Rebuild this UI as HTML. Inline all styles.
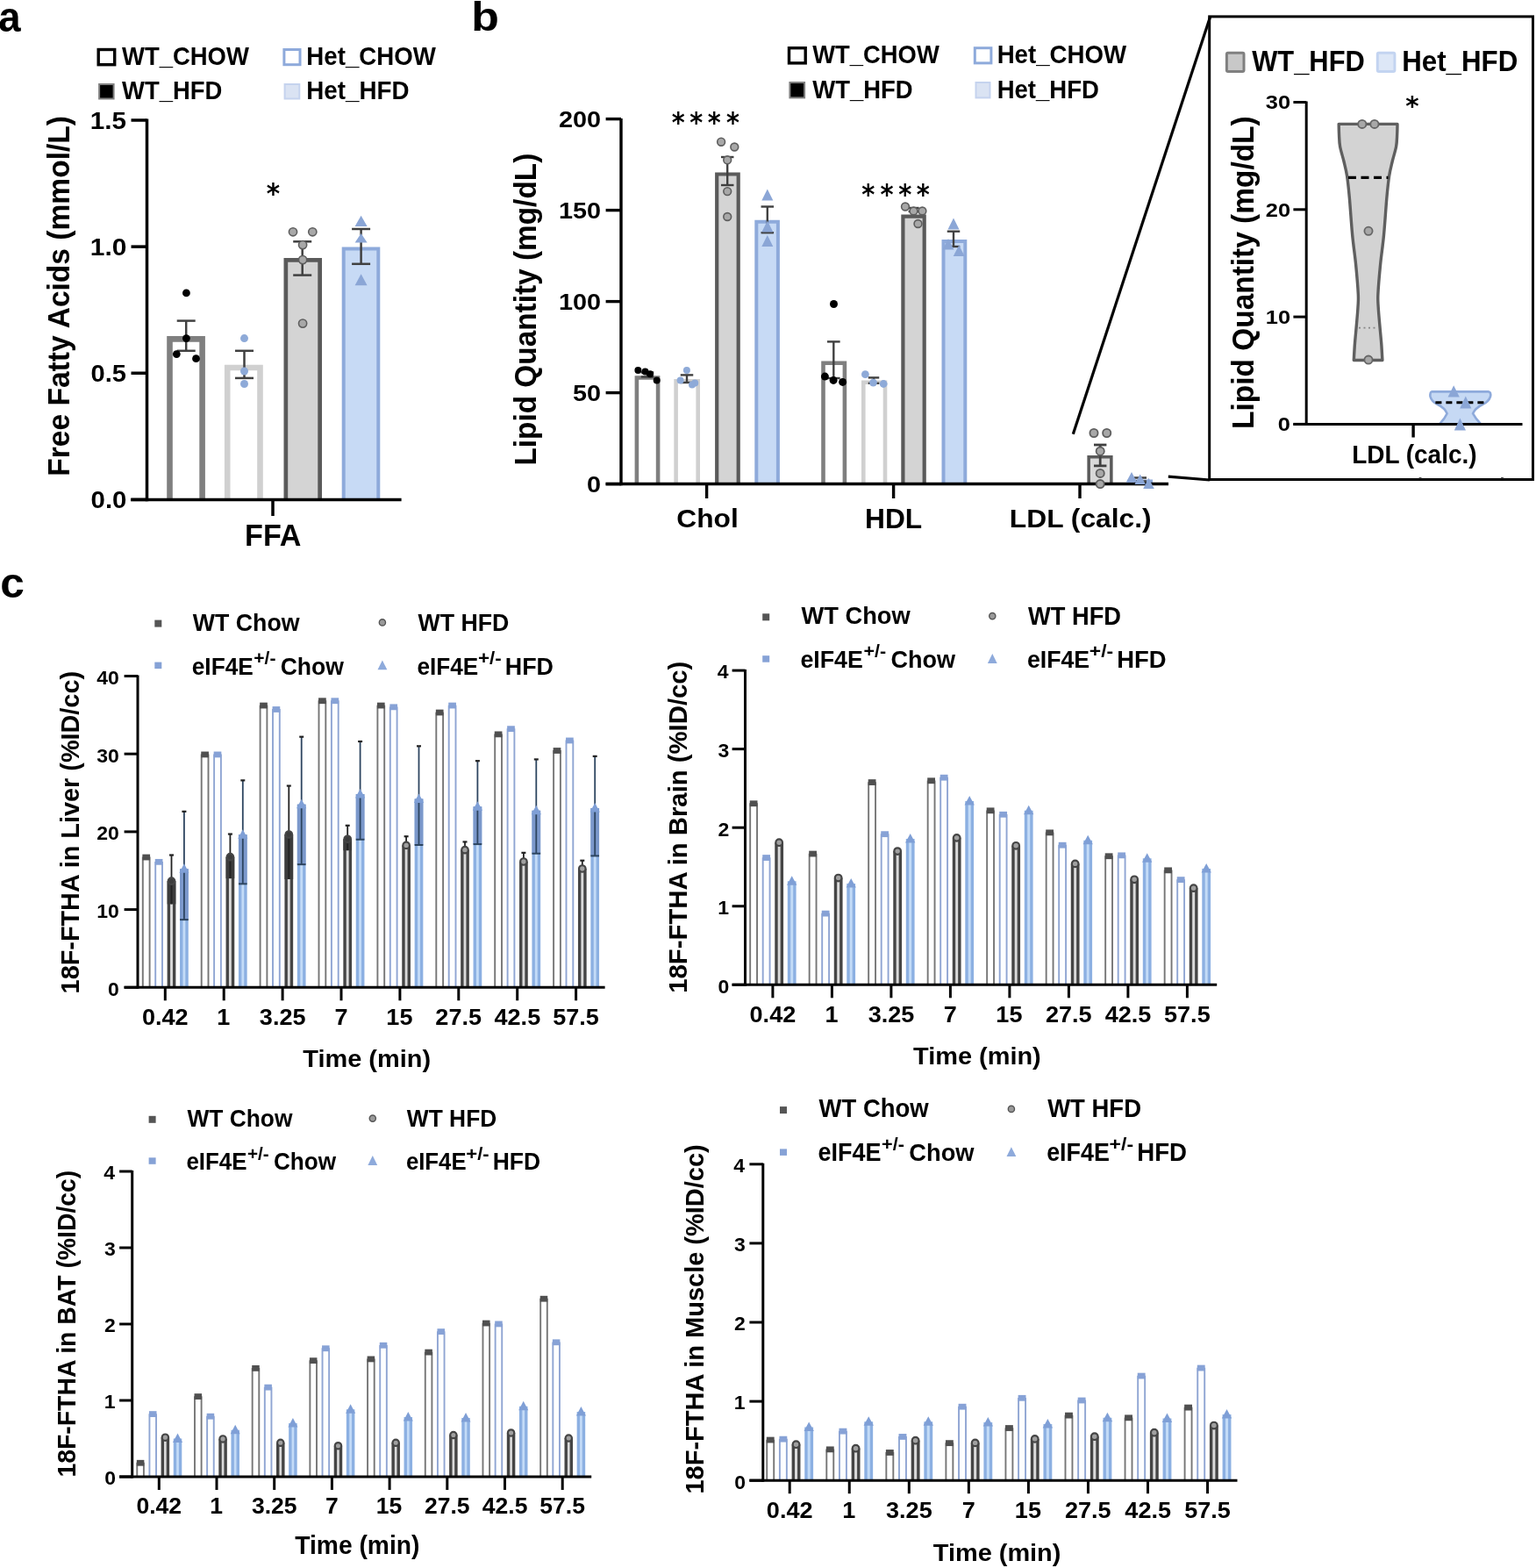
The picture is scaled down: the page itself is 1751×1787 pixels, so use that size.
<!DOCTYPE html><html><head><meta charset="utf-8"><title>Figure</title><style>html,body{margin:0;padding:0;background:#fff}svg{display:block}</style></head><body>
<svg width="1751" height="1787" viewBox="0 0 1751 1787" font-family="Liberation Sans, Arial, Helvetica, sans-serif" font-weight="bold">
<rect width="1751" height="1787" fill="#fff"/>
<text x="-1.84" y="35.63" font-size="48.01" textLength="25.35" lengthAdjust="spacingAndGlyphs" fill="#000">a</text>
<rect x="112.2" y="56.5" width="18.5" height="17.2" fill="#fff" stroke="#000" stroke-width="3.4"/>
<text x="138.97" y="74.2" font-size="29.51" textLength="144.85" lengthAdjust="spacingAndGlyphs" fill="#000">WT_CHOW</text>
<rect x="113.1" y="96" width="16.5" height="16.5" fill="#000" stroke="#808080" stroke-width="2"/>
<text x="138.97" y="113.3" font-size="28.92" textLength="114.38" lengthAdjust="spacingAndGlyphs" fill="#000">WT_HFD</text>
<rect x="323.9" y="56.5" width="18.1" height="17.2" fill="#fff" stroke="#8eaadb" stroke-width="3"/>
<text x="349.35" y="74.2" font-size="29.51" textLength="147.58" lengthAdjust="spacingAndGlyphs" fill="#000">Het_CHOW</text>
<rect x="324.6" y="96" width="16.7" height="16.5" fill="#dae3f3" stroke="#c5d3ee" stroke-width="2"/>
<text x="349.34" y="113.3" font-size="28.92" textLength="117.12" lengthAdjust="spacingAndGlyphs" fill="#000">Het_HFD</text>
<rect x="193.5" y="386.4" width="37.1" height="183" fill="#fff"/>
<path d="M193.5 569.4V386.4H230.6V569.4" fill="none" stroke="#7f7f7f" stroke-width="6.6" stroke-linejoin="miter"/>
<rect x="259.2" y="419" width="37.3" height="150.4" fill="#fff"/>
<path d="M259.2 569.4V419H296.5V569.4" fill="none" stroke="#d0d0d0" stroke-width="6.6" stroke-linejoin="miter"/>
<rect x="325.85" y="296.45" width="38.8" height="272.95" fill="#d4d4d4"/>
<path d="M325.85 569.4V296.45H364.65V569.4" fill="none" stroke="#5a5a5a" stroke-width="4.7" stroke-linejoin="miter"/>
<rect x="391.7" y="283.4" width="39.6" height="286" fill="#c7daf5"/>
<path d="M391.7 569.4V283.4H431.3V569.4" fill="none" stroke="#8eaadb" stroke-width="4" stroke-linejoin="miter"/>
<line x1="212.2" y1="365.6" x2="212.2" y2="399.8" stroke="#404040" stroke-width="2.5"/>
<line x1="201.7" y1="365.6" x2="222.7" y2="365.6" stroke="#404040" stroke-width="2.5"/>
<line x1="201.7" y1="399.8" x2="222.7" y2="399.8" stroke="#404040" stroke-width="2.5"/>
<line x1="278.5" y1="399.8" x2="278.5" y2="430.9" stroke="#404040" stroke-width="2.5"/>
<line x1="268" y1="399.8" x2="289" y2="399.8" stroke="#404040" stroke-width="2.5"/>
<line x1="268" y1="430.9" x2="289" y2="430.9" stroke="#404040" stroke-width="2.5"/>
<line x1="344.7" y1="275.3" x2="344.7" y2="313.6" stroke="#404040" stroke-width="2.5"/>
<line x1="334.2" y1="275.3" x2="355.2" y2="275.3" stroke="#404040" stroke-width="2.5"/>
<line x1="334.2" y1="313.6" x2="355.2" y2="313.6" stroke="#404040" stroke-width="2.5"/>
<line x1="411.6" y1="261" x2="411.6" y2="300.8" stroke="#404040" stroke-width="2.5"/>
<line x1="401.1" y1="261" x2="422.1" y2="261" stroke="#404040" stroke-width="2.5"/>
<line x1="401.1" y1="300.8" x2="422.1" y2="300.8" stroke="#404040" stroke-width="2.5"/>
<circle cx="212.4" cy="333.9" r="4.4" fill="#000" stroke="none" stroke-width="0"/>
<circle cx="212.4" cy="385.6" r="4.4" fill="#000" stroke="none" stroke-width="0"/>
<circle cx="201.3" cy="403.6" r="4.4" fill="#000" stroke="none" stroke-width="0"/>
<circle cx="223.5" cy="408.7" r="4.4" fill="#000" stroke="none" stroke-width="0"/>
<circle cx="278.5" cy="385.6" r="4.5" fill="#8eaad8" stroke="none" stroke-width="0"/>
<circle cx="278.5" cy="423" r="4.5" fill="#8eaad8" stroke="none" stroke-width="0"/>
<circle cx="278.5" cy="437.5" r="4.5" fill="#8eaad8" stroke="none" stroke-width="0"/>
<circle cx="334" cy="264.3" r="4.6" fill="#a8a8a8" stroke="#5e5e5e" stroke-width="1.6"/>
<circle cx="356.3" cy="264.3" r="4.6" fill="#a8a8a8" stroke="#5e5e5e" stroke-width="1.6"/>
<circle cx="345.1" cy="279.1" r="4.6" fill="#a8a8a8" stroke="#5e5e5e" stroke-width="1.6"/>
<circle cx="345.1" cy="296.1" r="4.6" fill="#a8a8a8" stroke="#5e5e5e" stroke-width="1.6"/>
<circle cx="345.1" cy="368.6" r="4.6" fill="#a8a8a8" stroke="#5e5e5e" stroke-width="1.6"/>
<path d="M411.6 245.8L418.6 257.9L404.6 257.9Z" fill="#8ba6d6" stroke="none" stroke-width="0" stroke-linejoin="round"/>
<path d="M411.6 265.9L418.6 276.6L404.6 276.6Z" fill="#8ba6d6" stroke="none" stroke-width="0" stroke-linejoin="round"/>
<path d="M411.6 312.2L418.6 325.2L404.6 325.2Z" fill="#8ba6d6" stroke="none" stroke-width="0" stroke-linejoin="round"/>
<line x1="167.5" y1="135.6" x2="167.5" y2="571.15" stroke="#000" stroke-width="3.5"/>
<line x1="149" y1="569.4" x2="457.6" y2="569.4" stroke="#000" stroke-width="3.5"/>
<line x1="149.5" y1="569.4" x2="167.5" y2="569.4" stroke="#000" stroke-width="3.5"/>
<line x1="149.5" y1="425.26" x2="167.5" y2="425.26" stroke="#000" stroke-width="3.5"/>
<line x1="149.5" y1="281.13" x2="167.5" y2="281.13" stroke="#000" stroke-width="3.5"/>
<line x1="149.5" y1="137" x2="167.5" y2="137" stroke="#000" stroke-width="3.5"/>
<line x1="311" y1="569.4" x2="311" y2="588" stroke="#000" stroke-width="3.5"/>
<text x="103.54" y="579.1" font-size="27.33" textLength="40.87" lengthAdjust="spacingAndGlyphs" fill="#000">0.0</text>
<text x="103.55" y="434.96" font-size="27.33" textLength="40.46" lengthAdjust="spacingAndGlyphs" fill="#000">0.5</text>
<text x="102.81" y="290.83" font-size="27.33" textLength="41.61" lengthAdjust="spacingAndGlyphs" fill="#000">1.0</text>
<text x="102.83" y="146.69" font-size="27.33" textLength="41.19" lengthAdjust="spacingAndGlyphs" fill="#000">1.5</text>
<text x="279.08" y="622.2" font-size="34.3" textLength="64.39" lengthAdjust="spacingAndGlyphs" fill="#000">FFA</text>
<text transform="translate(79.3 540.5) rotate(-90)" x="-2.24" y="0" font-size="35" textLength="410.7" lengthAdjust="spacingAndGlyphs" fill="#000">Free Fatty Acids (mmol/L)</text>
<text x="303.81" y="231.21" font-family="DejaVu Sans, sans-serif" font-size="31.68" textLength="15.38" lengthAdjust="spacingAndGlyphs" fill="#000">*</text>
<text x="537.19" y="35.35" font-size="45.75" textLength="31.64" lengthAdjust="spacingAndGlyphs" fill="#000">b</text>
<rect x="899.5" y="54.7" width="18.7" height="17.2" fill="#fff" stroke="#000" stroke-width="3.4"/>
<text x="926.27" y="72.2" font-size="29.51" textLength="144.45" lengthAdjust="spacingAndGlyphs" fill="#000">WT_CHOW</text>
<rect x="900.4" y="94" width="16.7" height="17.4" fill="#000" stroke="#808080" stroke-width="2"/>
<text x="926.27" y="112.2" font-size="30.23" textLength="114.38" lengthAdjust="spacingAndGlyphs" fill="#000">WT_HFD</text>
<rect x="1111.3" y="54.7" width="18.6" height="17.2" fill="#fff" stroke="#8eaadb" stroke-width="3"/>
<text x="1136.65" y="72.2" font-size="29.51" textLength="147.58" lengthAdjust="spacingAndGlyphs" fill="#000">Het_CHOW</text>
<rect x="1112.5" y="94" width="16" height="17.4" fill="#dae3f3" stroke="#c5d3ee" stroke-width="2"/>
<text x="1136.66" y="112.2" font-size="30.23" textLength="116.3" lengthAdjust="spacingAndGlyphs" fill="#000">Het_HFD</text>
<rect x="725.9" y="430.5" width="24.2" height="121" fill="#fff"/>
<path d="M725.9 551.5V430.5H750.1V551.5" fill="none" stroke="#7f7f7f" stroke-width="4.6" stroke-linejoin="miter"/>
<rect x="770.6" y="434.3" width="25.1" height="117.2" fill="#fff"/>
<path d="M770.6 551.5V434.3H795.7V551.5" fill="none" stroke="#d0d0d0" stroke-width="4.6" stroke-linejoin="miter"/>
<rect x="817.2" y="198.5" width="24.5" height="353" fill="#d4d4d4"/>
<path d="M817.2 551.5V198.5H841.7V551.5" fill="none" stroke="#5a5a5a" stroke-width="4.2" stroke-linejoin="miter"/>
<rect x="862.3" y="252.7" width="24.6" height="298.8" fill="#c7daf5"/>
<path d="M862.3 551.5V252.7H886.9V551.5" fill="none" stroke="#8eaadb" stroke-width="4" stroke-linejoin="miter"/>
<rect x="938.5" y="413.7" width="24.4" height="137.8" fill="#fff"/>
<path d="M938.5 551.5V413.7H962.9V551.5" fill="none" stroke="#7f7f7f" stroke-width="4.6" stroke-linejoin="miter"/>
<rect x="984.3" y="435.8" width="24.7" height="115.7" fill="#fff"/>
<path d="M984.3 551.5V435.8H1009V551.5" fill="none" stroke="#d0d0d0" stroke-width="4.6" stroke-linejoin="miter"/>
<rect x="1029.4" y="246.6" width="24.3" height="304.9" fill="#d4d4d4"/>
<path d="M1029.4 551.5V246.6H1053.7V551.5" fill="none" stroke="#5a5a5a" stroke-width="4.2" stroke-linejoin="miter"/>
<rect x="1075.5" y="275" width="24.8" height="276.5" fill="#c7daf5"/>
<path d="M1075.5 551.5V275H1100.3V551.5" fill="none" stroke="#8eaadb" stroke-width="4" stroke-linejoin="miter"/>
<rect x="1241.15" y="520.85" width="25.7" height="30.65" fill="#d9d9d9"/>
<path d="M1241.15 551.5V520.85H1266.85V551.5" fill="none" stroke="#5a5a5a" stroke-width="3.5" stroke-linejoin="miter"/>
<rect x="1287" y="548" width="25.5" height="3.5" fill="#c7daf5"/>
<path d="M1287 551.5V548H1312.5V551.5" fill="none" stroke="#8eaadb" stroke-width="3" stroke-linejoin="miter"/>
<line x1="738" y1="424.5" x2="738" y2="429.5" stroke="#404040" stroke-width="2.4"/>
<line x1="730.75" y1="424.5" x2="745.25" y2="424.5" stroke="#404040" stroke-width="2.4"/>
<line x1="730.75" y1="429.5" x2="745.25" y2="429.5" stroke="#404040" stroke-width="2.4"/>
<line x1="783" y1="427.4" x2="783" y2="436" stroke="#404040" stroke-width="2.4"/>
<line x1="775.75" y1="427.4" x2="790.25" y2="427.4" stroke="#404040" stroke-width="2.4"/>
<line x1="775.75" y1="436" x2="790.25" y2="436" stroke="#404040" stroke-width="2.4"/>
<line x1="829.2" y1="179" x2="829.2" y2="211" stroke="#404040" stroke-width="2.4"/>
<line x1="821.95" y1="179" x2="836.45" y2="179" stroke="#404040" stroke-width="2.4"/>
<line x1="821.95" y1="211" x2="836.45" y2="211" stroke="#404040" stroke-width="2.4"/>
<line x1="874.8" y1="235.5" x2="874.8" y2="265.2" stroke="#404040" stroke-width="2.4"/>
<line x1="867.55" y1="235.5" x2="882.05" y2="235.5" stroke="#404040" stroke-width="2.4"/>
<line x1="867.55" y1="265.2" x2="882.05" y2="265.2" stroke="#404040" stroke-width="2.4"/>
<line x1="950.3" y1="389.4" x2="950.3" y2="431" stroke="#404040" stroke-width="2.4"/>
<line x1="942.95" y1="389.4" x2="957.65" y2="389.4" stroke="#404040" stroke-width="2.4"/>
<line x1="942.95" y1="431" x2="957.65" y2="431" stroke="#404040" stroke-width="2.4"/>
<line x1="996" y1="430.4" x2="996" y2="436.8" stroke="#404040" stroke-width="2.4"/>
<line x1="989.75" y1="430.4" x2="1002.25" y2="430.4" stroke="#404040" stroke-width="2.4"/>
<line x1="989.75" y1="436.8" x2="1002.25" y2="436.8" stroke="#404040" stroke-width="2.4"/>
<line x1="1041.6" y1="237" x2="1041.6" y2="241" stroke="#404040" stroke-width="2.4"/>
<line x1="1035.6" y1="237" x2="1047.6" y2="237" stroke="#404040" stroke-width="2.4"/>
<line x1="1035.6" y1="241" x2="1047.6" y2="241" stroke="#404040" stroke-width="2.4"/>
<line x1="1087" y1="263.7" x2="1087" y2="281" stroke="#404040" stroke-width="2.4"/>
<line x1="1079.75" y1="263.7" x2="1094.25" y2="263.7" stroke="#404040" stroke-width="2.4"/>
<line x1="1079.75" y1="281" x2="1094.25" y2="281" stroke="#404040" stroke-width="2.4"/>
<line x1="1254.2" y1="507" x2="1254.2" y2="530.9" stroke="#404040" stroke-width="2.8"/>
<line x1="1247" y1="507" x2="1261.4" y2="507" stroke="#404040" stroke-width="2.8"/>
<line x1="1247" y1="530.9" x2="1261.4" y2="530.9" stroke="#404040" stroke-width="2.8"/>
<line x1="1300" y1="544.5" x2="1300" y2="548.5" stroke="#404040" stroke-width="2.5"/>
<line x1="1293" y1="544.5" x2="1307" y2="544.5" stroke="#404040" stroke-width="2.5"/>
<line x1="1293" y1="548.5" x2="1307" y2="548.5" stroke="#404040" stroke-width="2.5"/>
<circle cx="727.4" cy="421.9" r="4" fill="#000" stroke="none" stroke-width="0"/>
<circle cx="735.5" cy="423.4" r="4" fill="#000" stroke="none" stroke-width="0"/>
<circle cx="741.1" cy="426.3" r="4" fill="#000" stroke="none" stroke-width="0"/>
<circle cx="748.7" cy="433.5" r="4" fill="#000" stroke="none" stroke-width="0"/>
<circle cx="782.9" cy="421.9" r="4" fill="#8eaad8" stroke="none" stroke-width="0"/>
<circle cx="775.6" cy="433.4" r="4" fill="#8eaad8" stroke="none" stroke-width="0"/>
<circle cx="792.2" cy="436.6" r="4" fill="#8eaad8" stroke="none" stroke-width="0"/>
<circle cx="789" cy="438.5" r="4" fill="#8eaad8" stroke="none" stroke-width="0"/>
<circle cx="822.1" cy="161.7" r="4.4" fill="#a8a8a8" stroke="#5e5e5e" stroke-width="1.6"/>
<circle cx="837.3" cy="167.5" r="4.4" fill="#a8a8a8" stroke="#5e5e5e" stroke-width="1.6"/>
<circle cx="829.2" cy="182.3" r="4.4" fill="#a8a8a8" stroke="#5e5e5e" stroke-width="1.6"/>
<circle cx="829.2" cy="218.1" r="4.4" fill="#a8a8a8" stroke="#5e5e5e" stroke-width="1.6"/>
<circle cx="829.2" cy="247" r="4.4" fill="#a8a8a8" stroke="#5e5e5e" stroke-width="1.6"/>
<path d="M874.8 215.5L881.3 228.5L868.3 228.5Z" fill="#8ba6d6" stroke="none" stroke-width="0" stroke-linejoin="round"/>
<path d="M874.8 251.5L881.3 264.5L868.3 264.5Z" fill="#8ba6d6" stroke="none" stroke-width="0" stroke-linejoin="round"/>
<path d="M874.8 268L881.3 281L868.3 281Z" fill="#8ba6d6" stroke="none" stroke-width="0" stroke-linejoin="round"/>
<circle cx="950.5" cy="346.5" r="4.5" fill="#000" stroke="none" stroke-width="0"/>
<circle cx="940.4" cy="429.1" r="4.5" fill="#000" stroke="none" stroke-width="0"/>
<circle cx="950.1" cy="433.4" r="4.5" fill="#000" stroke="none" stroke-width="0"/>
<circle cx="960.6" cy="435.4" r="4.5" fill="#000" stroke="none" stroke-width="0"/>
<circle cx="986.4" cy="426.7" r="4.4" fill="#8eaad8" stroke="none" stroke-width="0"/>
<circle cx="995.5" cy="436.1" r="4.4" fill="#8eaad8" stroke="none" stroke-width="0"/>
<circle cx="1007.2" cy="437.5" r="4.4" fill="#8eaad8" stroke="none" stroke-width="0"/>
<circle cx="1032" cy="235.5" r="4.4" fill="#a8a8a8" stroke="#5e5e5e" stroke-width="1.6"/>
<circle cx="1041.5" cy="240.5" r="4.4" fill="#a8a8a8" stroke="#5e5e5e" stroke-width="1.6"/>
<circle cx="1051.4" cy="240.5" r="4.4" fill="#a8a8a8" stroke="#5e5e5e" stroke-width="1.6"/>
<circle cx="1046.5" cy="255" r="4.4" fill="#a8a8a8" stroke="#5e5e5e" stroke-width="1.6"/>
<path d="M1087 248.5L1093.5 261.5L1080.5 261.5Z" fill="#8ba6d6" stroke="none" stroke-width="0" stroke-linejoin="round"/>
<path d="M1093.2 279.5L1099.7 292L1086.7 292Z" fill="#8ba6d6" stroke="none" stroke-width="0" stroke-linejoin="round"/>
<path d="M1081 272L1087.5 284.5L1074.5 284.5Z" fill="#8ba6d6" stroke="none" stroke-width="0" stroke-linejoin="round"/>
<circle cx="1247" cy="493.5" r="4.6" fill="#a8a8a8" stroke="#5e5e5e" stroke-width="1.8"/>
<circle cx="1261.7" cy="493.5" r="4.6" fill="#a8a8a8" stroke="#5e5e5e" stroke-width="1.8"/>
<circle cx="1254.2" cy="514.2" r="4.6" fill="#a8a8a8" stroke="#5e5e5e" stroke-width="1.8"/>
<circle cx="1254.2" cy="539.4" r="4.6" fill="#a8a8a8" stroke="#5e5e5e" stroke-width="1.8"/>
<line x1="708" y1="135" x2="708" y2="553.2" stroke="#000" stroke-width="3.4"/>
<line x1="690.6" y1="551.5" x2="1332" y2="551.5" stroke="#000" stroke-width="3.4"/>
<line x1="690.6" y1="551.6" x2="708" y2="551.6" stroke="#000" stroke-width="3.4"/>
<line x1="690.6" y1="447.6" x2="708" y2="447.6" stroke="#000" stroke-width="3.4"/>
<line x1="690.6" y1="343.6" x2="708" y2="343.6" stroke="#000" stroke-width="3.4"/>
<line x1="690.6" y1="239.6" x2="708" y2="239.6" stroke="#000" stroke-width="3.4"/>
<line x1="690.6" y1="135.6" x2="708" y2="135.6" stroke="#000" stroke-width="3.4"/>
<line x1="805.6" y1="551.5" x2="805.6" y2="568" stroke="#000" stroke-width="3.4"/>
<line x1="1018.6" y1="551.5" x2="1018.6" y2="568" stroke="#000" stroke-width="3.4"/>
<line x1="1231" y1="551.5" x2="1231" y2="568" stroke="#000" stroke-width="3.4"/>
<circle cx="1254.2" cy="551.6" r="4.6" fill="#a8a8a8" stroke="#5e5e5e" stroke-width="1.8"/>
<path d="M1290 538.1L1296.3 549.7L1283.7 549.7Z" fill="#8ba6d6" stroke="none" stroke-width="0" stroke-linejoin="round"/>
<path d="M1299.7 540.6L1306 552L1293.4 552Z" fill="#8ba6d6" stroke="none" stroke-width="0" stroke-linejoin="round"/>
<path d="M1309.5 544.7L1315.8 557L1303.2 557Z" fill="#8ba6d6" stroke="none" stroke-width="0" stroke-linejoin="round"/>
<text x="668.95" y="561" font-size="26.16" textLength="16.03" lengthAdjust="spacingAndGlyphs" fill="#000">0</text>
<text x="652.93" y="457" font-size="26.16" textLength="32.06" lengthAdjust="spacingAndGlyphs" fill="#000">50</text>
<text x="636.9" y="353" font-size="26.16" textLength="48.08" lengthAdjust="spacingAndGlyphs" fill="#000">100</text>
<text x="636.9" y="249" font-size="26.16" textLength="48.08" lengthAdjust="spacingAndGlyphs" fill="#000">150</text>
<text x="636.9" y="145" font-size="26.16" textLength="48.08" lengthAdjust="spacingAndGlyphs" fill="#000">200</text>
<text x="771.3" y="601" font-size="30.09" textLength="70.45" lengthAdjust="spacingAndGlyphs" fill="#000">Chol</text>
<text x="985.98" y="601.5" font-size="30.81" textLength="65.2" lengthAdjust="spacingAndGlyphs" fill="#000">HDL</text>
<text x="1150.88" y="601.2" font-size="30.38" textLength="161.79" lengthAdjust="spacingAndGlyphs" fill="#000">LDL (calc.)</text>
<text transform="translate(611.3 528.4) rotate(-90)" x="-2.23" y="0" font-size="35" textLength="355.89" lengthAdjust="spacingAndGlyphs" fill="#000">Lipid Quantity (mg/dL)</text>
<text x="765.63" y="149.85" font-family="DejaVu Sans, sans-serif" font-size="31.47" textLength="14.94" lengthAdjust="spacingAndGlyphs" fill="#000">*</text>
<text x="786.23" y="149.85" font-family="DejaVu Sans, sans-serif" font-size="31.47" textLength="14.94" lengthAdjust="spacingAndGlyphs" fill="#000">*</text>
<text x="806.73" y="149.85" font-family="DejaVu Sans, sans-serif" font-size="31.47" textLength="14.94" lengthAdjust="spacingAndGlyphs" fill="#000">*</text>
<text x="828.03" y="149.85" font-family="DejaVu Sans, sans-serif" font-size="31.47" textLength="14.94" lengthAdjust="spacingAndGlyphs" fill="#000">*</text>
<text x="982.37" y="231.58" font-family="DejaVu Sans, sans-serif" font-size="32.11" textLength="15.05" lengthAdjust="spacingAndGlyphs" fill="#000">*</text>
<text x="1003.47" y="231.58" font-family="DejaVu Sans, sans-serif" font-size="32.11" textLength="15.05" lengthAdjust="spacingAndGlyphs" fill="#000">*</text>
<text x="1024.27" y="231.58" font-family="DejaVu Sans, sans-serif" font-size="32.11" textLength="15.05" lengthAdjust="spacingAndGlyphs" fill="#000">*</text>
<text x="1044.77" y="231.58" font-family="DejaVu Sans, sans-serif" font-size="32.11" textLength="15.05" lengthAdjust="spacingAndGlyphs" fill="#000">*</text>
<line x1="1223.3" y1="494.7" x2="1379.5" y2="19.5" stroke="#000" stroke-width="3.2"/>
<line x1="1331.8" y1="543.1" x2="1379" y2="547" stroke="#000" stroke-width="3.2"/>
<rect x="1378.7" y="18.9" width="368.8" height="527.6" fill="none" stroke="#000" stroke-width="3"/>
<rect x="1398.4" y="60.2" width="19.6" height="21.2" fill="#c8c8c8" stroke="#808080" stroke-width="3" rx="1.5"/>
<text x="1427.17" y="81.3" font-size="32.56" textLength="128.63" lengthAdjust="spacingAndGlyphs" fill="#000">WT_HFD</text>
<rect x="1570.3" y="60.2" width="19.6" height="21.2" fill="#dde7f7" stroke="#c3d4f1" stroke-width="3" rx="1.5"/>
<text x="1598.21" y="81.3" font-size="32.56" textLength="132.11" lengthAdjust="spacingAndGlyphs" fill="#000">Het_HFD</text>
<path d="M1526.2 141.4L1593 141.4C1592.95 143.33 1592.93 148.73 1592.7 153C1592.47 157.27 1592.52 161.83 1591.6 167C1590.68 172.17 1588.53 178.38 1587.2 184C1585.87 189.62 1584.65 193.87 1583.6 200.7C1582.55 207.53 1581.92 213.78 1580.9 225C1579.88 236.22 1578.72 255.25 1577.5 268C1576.28 280.75 1574.7 290.33 1573.6 301.5C1572.5 312.67 1571.3 326.92 1570.9 335C1570.5 343.08 1570.88 344.17 1571.2 350C1571.52 355.83 1572.22 363.17 1572.8 370C1573.38 376.83 1574.18 384.25 1574.7 391C1575.22 397.75 1575.7 407.25 1575.9 410.5L1543.3 410.5C1543.5 407.25 1543.98 397.75 1544.5 391C1545.02 384.25 1545.82 376.83 1546.4 370C1546.98 363.17 1547.68 355.83 1548 350C1548.32 344.17 1548.7 343.08 1548.3 335C1547.9 326.92 1546.7 312.67 1545.6 301.5C1544.5 290.33 1542.92 280.75 1541.7 268C1540.48 255.25 1539.32 236.22 1538.3 225C1537.28 213.78 1536.65 207.53 1535.6 200.7C1534.55 193.87 1533.33 189.62 1532 184C1530.67 178.38 1528.52 172.17 1527.6 167C1526.68 161.83 1526.73 157.27 1526.5 153C1526.27 148.73 1526.25 143.33 1526.2 141.4Z" fill="#d3d3d3" stroke="#5f5f5f" stroke-width="3.4" stroke-linejoin="round"/>
<line x1="1537" y1="202.3" x2="1582.5" y2="202.3" stroke="#000" stroke-width="3.2" stroke-dasharray="9 5.5"/>
<line x1="1549" y1="373.6" x2="1571" y2="373.6" stroke="#888" stroke-width="1.6" stroke-dasharray="2 3.5"/>
<circle cx="1552.8" cy="141.4" r="4.6" fill="#a8a8a8" stroke="#666" stroke-width="1.8"/>
<circle cx="1566.9" cy="141.4" r="4.6" fill="#a8a8a8" stroke="#666" stroke-width="1.8"/>
<circle cx="1560" cy="263.3" r="4.6" fill="#a8a8a8" stroke="#666" stroke-width="1.8"/>
<circle cx="1560" cy="410.1" r="4.6" fill="#a8a8a8" stroke="#666" stroke-width="1.8"/>
<path d="M1632 446.4 L1697.1 446.4 Q1700 447 1699 452 Q1697 458 1690 461 Q1682 465 1679 471.2 Q1682 477 1688 483.2 L1641.2 483.2 Q1647 477 1649.6 471.2 Q1647 465 1639 461 Q1632 458 1630.5 452 Q1630 447 1632 446.4 Z" fill="#c6d9f4" stroke="#8eaadb" stroke-width="2.6" stroke-linejoin="round"/>
<line x1="1636.4" y1="458.8" x2="1692" y2="458.8" stroke="#000" stroke-width="3" stroke-dasharray="7 5"/>
<path d="M1657.2 439.2L1663.8 452.4L1650.6 452.4Z" fill="#8ba6d6" stroke="none" stroke-width="0" stroke-linejoin="round"/>
<path d="M1670.8 451.6L1677.4 465.6L1664.2 465.6Z" fill="#8ba6d6" stroke="none" stroke-width="0" stroke-linejoin="round"/>
<line x1="1489.2" y1="115.5" x2="1489.2" y2="484.9" stroke="#000" stroke-width="3"/>
<line x1="1474.4" y1="483.4" x2="1735.5" y2="483.4" stroke="#000" stroke-width="3"/>
<line x1="1474.4" y1="483.4" x2="1489.2" y2="483.4" stroke="#000" stroke-width="3"/>
<line x1="1474.4" y1="361.1" x2="1489.2" y2="361.1" stroke="#000" stroke-width="3"/>
<line x1="1474.4" y1="238.8" x2="1489.2" y2="238.8" stroke="#000" stroke-width="3"/>
<line x1="1474.4" y1="116.5" x2="1489.2" y2="116.5" stroke="#000" stroke-width="3"/>
<line x1="1611.1" y1="483.4" x2="1611.1" y2="498.5" stroke="#000" stroke-width="3.4"/>
<path d="M1664.4 476.4L1671 490.4L1657.8 490.4Z" fill="#8ba6d6" stroke="none" stroke-width="0" stroke-linejoin="round"/>
<text x="1456.89" y="491.1" font-size="21.22" textLength="14.15" lengthAdjust="spacingAndGlyphs" fill="#000">0</text>
<text x="1442.75" y="368.8" font-size="21.22" textLength="28.3" lengthAdjust="spacingAndGlyphs" fill="#000">10</text>
<text x="1442.75" y="246.5" font-size="21.22" textLength="28.3" lengthAdjust="spacingAndGlyphs" fill="#000">20</text>
<text x="1442.75" y="124.2" font-size="21.22" textLength="28.3" lengthAdjust="spacingAndGlyphs" fill="#000">30</text>
<text x="1541.14" y="528" font-size="29.94" textLength="142.45" lengthAdjust="spacingAndGlyphs" fill="#000">LDL (calc.)</text>
<text transform="translate(1429 486.7) rotate(-90)" x="-2.24" y="0" font-size="35" textLength="356.6" lengthAdjust="spacingAndGlyphs" fill="#000">Lipid Quantity (mg/dL)</text>
<text x="1602.21" y="130.69" font-family="DejaVu Sans, sans-serif" font-size="30.17" textLength="15.38" lengthAdjust="spacingAndGlyphs" fill="#000">*</text>
<line x1="1617.5" y1="544.6" x2="1620.5" y2="544.6" stroke="#555" stroke-width="1.5"/>
<line x1="1711" y1="544.6" x2="1714" y2="544.6" stroke="#555" stroke-width="1.5"/>
<text x="0.36" y="681.02" font-size="48.74" textLength="27.59" lengthAdjust="spacingAndGlyphs" fill="#000">c</text>
<rect x="176.3" y="706.6" width="8" height="8" fill="#555" stroke="none" stroke-width="0"/>
<text x="219.77" y="718.73" font-size="27.91" textLength="121.77" lengthAdjust="spacingAndGlyphs" fill="#000">WT Chow</text>
<circle cx="435.9" cy="709.4" r="3.6" fill="#9a9a9a" stroke="#555" stroke-width="1.4"/>
<text x="476.47" y="718.8" font-size="28.05" textLength="103.95" lengthAdjust="spacingAndGlyphs" fill="#000">WT HFD</text>
<rect x="176.3" y="754.6" width="8" height="7.5" fill="#86a2d6" stroke="none" stroke-width="0"/>
<text x="218.77" y="768.6" font-size="27.91" textLength="70.05" lengthAdjust="spacingAndGlyphs" fill="#000">eIF4E</text>
<text x="289.32" y="756.81" font-size="19.61" textLength="25.12" lengthAdjust="spacingAndGlyphs" fill="#000">+/-</text>
<text x="319.71" y="768.53" font-size="27.51" textLength="72.24" lengthAdjust="spacingAndGlyphs" fill="#000">Chow</text>
<path d="M435.9 752.4L441.3 763.3L430.5 763.3Z" fill="#8eaadb" stroke="none" stroke-width="0" stroke-linejoin="round"/>
<text x="475.48" y="768.6" font-size="27.91" textLength="69.74" lengthAdjust="spacingAndGlyphs" fill="#000">eIF4E</text>
<text x="544.96" y="756.81" font-size="19.61" textLength="26.74" lengthAdjust="spacingAndGlyphs" fill="#000">+/-</text>
<text x="575.8" y="768.6" font-size="27.91" textLength="55.23" lengthAdjust="spacingAndGlyphs" fill="#000">HFD</text>
<rect x="162.8" y="977.57" width="7.8" height="147.73" fill="#fff"/>
<path d="M162.8 1125.3V977.57H170.6V1125.3" fill="none" stroke="#767676" stroke-width="1.9" stroke-linejoin="miter"/>
<rect x="162.35" y="973.62" width="8.7" height="6.8" fill="#505050" stroke="none" stroke-width="0"/>
<rect x="177.2" y="982.89" width="7.8" height="142.41" fill="#fdfeff"/>
<path d="M177.2 1125.3V982.89H185V1125.3" fill="none" stroke="#8fa5d3" stroke-width="1.9" stroke-linejoin="miter"/>
<rect x="176.75" y="978.94" width="8.7" height="6.8" fill="#87a2d6" stroke="none" stroke-width="0"/>
<rect x="192.35" y="1005.9" width="6.3" height="119.4" fill="#dadada"/>
<path d="M192.35 1125.3V1005.9H198.65V1125.3" fill="none" stroke="#454545" stroke-width="3.4" stroke-linejoin="miter"/>
<rect x="190.65" y="1004.2" width="9.7" height="26.19" fill="#3c3c3c" stroke="none" stroke-width="0"/>
<line x1="195.5" y1="974.51" x2="195.5" y2="1030.39" stroke="#222" stroke-width="1.8"/>
<line x1="193" y1="974.51" x2="198" y2="974.51" stroke="#222" stroke-width="2.2"/>
<circle cx="195.5" cy="1004.2" r="3.75" fill="#3c3c3c" stroke="#454545" stroke-width="2.2"/>
<rect x="206.75" y="991.97" width="6.3" height="133.33" fill="#c3dbf7"/>
<path d="M206.75 1125.3V991.97H213.05V1125.3" fill="none" stroke="#8cb0e2" stroke-width="3.4" stroke-linejoin="miter"/>
<rect x="205.05" y="990.27" width="9.7" height="57.86" fill="#7b98cb" stroke="none" stroke-width="0"/>
<line x1="209.9" y1="924.84" x2="209.9" y2="1048.13" stroke="#2d4560" stroke-width="1.8"/>
<line x1="207.4" y1="924.84" x2="212.4" y2="924.84" stroke="#222" stroke-width="2.2"/>
<line x1="205.05" y1="1048.13" x2="214.75" y2="1048.13" stroke="#2d4560" stroke-width="2"/>
<path d="M209.9 984.27L215.5 994.77L204.3 994.77Z" fill="#7f9fd6" stroke="none" stroke-width="0" stroke-linejoin="round"/>
<rect x="229.7" y="860.49" width="7.8" height="264.81" fill="#fff"/>
<path d="M229.7 1125.3V860.49H237.5V1125.3" fill="none" stroke="#767676" stroke-width="1.9" stroke-linejoin="miter"/>
<rect x="229.25" y="856.54" width="8.7" height="6.8" fill="#505050" stroke="none" stroke-width="0"/>
<rect x="244.1" y="860.49" width="7.8" height="264.81" fill="#fdfeff"/>
<path d="M244.1 1125.3V860.49H251.9V1125.3" fill="none" stroke="#8fa5d3" stroke-width="1.9" stroke-linejoin="miter"/>
<rect x="243.65" y="856.54" width="8.7" height="6.8" fill="#87a2d6" stroke="none" stroke-width="0"/>
<rect x="259.25" y="978.4" width="6.3" height="146.9" fill="#dadada"/>
<path d="M259.25 1125.3V978.4H265.55V1125.3" fill="none" stroke="#454545" stroke-width="3.4" stroke-linejoin="miter"/>
<rect x="257.55" y="976.7" width="9.7" height="24.42" fill="#3c3c3c" stroke="none" stroke-width="0"/>
<line x1="262.4" y1="950.56" x2="262.4" y2="1001.12" stroke="#222" stroke-width="1.8"/>
<line x1="259.9" y1="950.56" x2="264.9" y2="950.56" stroke="#222" stroke-width="2.2"/>
<circle cx="262.4" cy="976.7" r="3.75" fill="#3c3c3c" stroke="#454545" stroke-width="2.2"/>
<rect x="273.65" y="952.94" width="6.3" height="172.36" fill="#c3dbf7"/>
<path d="M273.65 1125.3V952.94H279.95V1125.3" fill="none" stroke="#8cb0e2" stroke-width="3.4" stroke-linejoin="miter"/>
<rect x="271.95" y="951.24" width="9.7" height="56.09" fill="#7b98cb" stroke="none" stroke-width="0"/>
<line x1="276.8" y1="889.36" x2="276.8" y2="1007.33" stroke="#2d4560" stroke-width="1.8"/>
<line x1="274.3" y1="889.36" x2="279.3" y2="889.36" stroke="#222" stroke-width="2.2"/>
<line x1="271.95" y1="1007.33" x2="281.65" y2="1007.33" stroke="#2d4560" stroke-width="2"/>
<path d="M276.8 945.24L282.4 955.74L271.2 955.74Z" fill="#7f9fd6" stroke="none" stroke-width="0" stroke-linejoin="round"/>
<rect x="296.6" y="804.61" width="7.8" height="320.69" fill="#fff"/>
<path d="M296.6 1125.3V804.61H304.4V1125.3" fill="none" stroke="#767676" stroke-width="1.9" stroke-linejoin="miter"/>
<rect x="296.15" y="800.66" width="8.7" height="6.8" fill="#505050" stroke="none" stroke-width="0"/>
<rect x="311" y="809.04" width="7.8" height="316.26" fill="#fdfeff"/>
<path d="M311 1125.3V809.04H318.8V1125.3" fill="none" stroke="#8fa5d3" stroke-width="1.9" stroke-linejoin="miter"/>
<rect x="310.55" y="805.09" width="8.7" height="6.8" fill="#87a2d6" stroke="none" stroke-width="0"/>
<rect x="326.15" y="952.68" width="6.3" height="172.62" fill="#dadada"/>
<path d="M326.15 1125.3V952.68H332.45V1125.3" fill="none" stroke="#454545" stroke-width="3.4" stroke-linejoin="miter"/>
<rect x="324.45" y="950.98" width="9.7" height="51.03" fill="#3c3c3c" stroke="none" stroke-width="0"/>
<line x1="329.3" y1="895.57" x2="329.3" y2="1002.01" stroke="#222" stroke-width="1.8"/>
<line x1="326.8" y1="895.57" x2="331.8" y2="895.57" stroke="#222" stroke-width="2.2"/>
<circle cx="329.3" cy="950.98" r="3.75" fill="#3c3c3c" stroke="#454545" stroke-width="2.2"/>
<rect x="340.55" y="918.35" width="6.3" height="206.95" fill="#c3dbf7"/>
<path d="M340.55 1125.3V918.35H346.85V1125.3" fill="none" stroke="#8cb0e2" stroke-width="3.4" stroke-linejoin="miter"/>
<rect x="338.85" y="916.65" width="9.7" height="68.51" fill="#7b98cb" stroke="none" stroke-width="0"/>
<line x1="343.7" y1="839.69" x2="343.7" y2="985.15" stroke="#2d4560" stroke-width="1.8"/>
<line x1="341.2" y1="839.69" x2="346.2" y2="839.69" stroke="#222" stroke-width="2.2"/>
<line x1="338.85" y1="985.15" x2="348.55" y2="985.15" stroke="#2d4560" stroke-width="2"/>
<path d="M343.7 910.65L349.3 921.15L338.1 921.15Z" fill="#7f9fd6" stroke="none" stroke-width="0" stroke-linejoin="round"/>
<rect x="363.5" y="799.29" width="7.8" height="326.01" fill="#fff"/>
<path d="M363.5 1125.3V799.29H371.3V1125.3" fill="none" stroke="#767676" stroke-width="1.9" stroke-linejoin="miter"/>
<rect x="363.05" y="795.34" width="8.7" height="6.8" fill="#505050" stroke="none" stroke-width="0"/>
<rect x="377.9" y="799.29" width="7.8" height="326.01" fill="#fdfeff"/>
<path d="M377.9 1125.3V799.29H385.7V1125.3" fill="none" stroke="#8fa5d3" stroke-width="1.9" stroke-linejoin="miter"/>
<rect x="377.45" y="795.34" width="8.7" height="6.8" fill="#87a2d6" stroke="none" stroke-width="0"/>
<rect x="393.05" y="958" width="6.3" height="167.3" fill="#dadada"/>
<path d="M393.05 1125.3V958H399.35V1125.3" fill="none" stroke="#454545" stroke-width="3.4" stroke-linejoin="miter"/>
<rect x="391.35" y="956.3" width="9.7" height="12.89" fill="#3c3c3c" stroke="none" stroke-width="0"/>
<line x1="396.2" y1="940.8" x2="396.2" y2="969.19" stroke="#222" stroke-width="1.8"/>
<line x1="393.7" y1="940.8" x2="398.7" y2="940.8" stroke="#222" stroke-width="2.2"/>
<circle cx="396.2" cy="956.3" r="3.75" fill="#3c3c3c" stroke="#454545" stroke-width="2.2"/>
<rect x="407.45" y="906.82" width="6.3" height="218.48" fill="#c3dbf7"/>
<path d="M407.45 1125.3V906.82H413.75V1125.3" fill="none" stroke="#8cb0e2" stroke-width="3.4" stroke-linejoin="miter"/>
<rect x="405.75" y="905.12" width="9.7" height="51.65" fill="#7b98cb" stroke="none" stroke-width="0"/>
<line x1="410.6" y1="845.01" x2="410.6" y2="956.77" stroke="#2d4560" stroke-width="1.8"/>
<line x1="408.1" y1="845.01" x2="413.1" y2="845.01" stroke="#222" stroke-width="2.2"/>
<line x1="405.75" y1="956.77" x2="415.45" y2="956.77" stroke="#2d4560" stroke-width="2"/>
<path d="M410.6 899.12L416.2 909.62L405 909.62Z" fill="#7f9fd6" stroke="none" stroke-width="0" stroke-linejoin="round"/>
<rect x="430.4" y="804.61" width="7.8" height="320.69" fill="#fff"/>
<path d="M430.4 1125.3V804.61H438.2V1125.3" fill="none" stroke="#767676" stroke-width="1.9" stroke-linejoin="miter"/>
<rect x="429.95" y="800.66" width="8.7" height="6.8" fill="#505050" stroke="none" stroke-width="0"/>
<rect x="444.8" y="806.38" width="7.8" height="318.92" fill="#fdfeff"/>
<path d="M444.8 1125.3V806.38H452.6V1125.3" fill="none" stroke="#8fa5d3" stroke-width="1.9" stroke-linejoin="miter"/>
<rect x="444.35" y="802.43" width="8.7" height="6.8" fill="#87a2d6" stroke="none" stroke-width="0"/>
<rect x="459.95" y="965.09" width="6.3" height="160.21" fill="#dadada"/>
<path d="M459.95 1125.3V965.09H466.25V1125.3" fill="none" stroke="#454545" stroke-width="3.4" stroke-linejoin="miter"/>
<line x1="463.1" y1="953.22" x2="463.1" y2="965.64" stroke="#222" stroke-width="1.8"/>
<line x1="460.6" y1="953.22" x2="465.6" y2="953.22" stroke="#222" stroke-width="2.2"/>
<circle cx="463.1" cy="963.39" r="3.75" fill="#a0a0a0" stroke="#454545" stroke-width="2.2"/>
<rect x="474.35" y="912.14" width="6.3" height="213.16" fill="#c3dbf7"/>
<path d="M474.35 1125.3V912.14H480.65V1125.3" fill="none" stroke="#8cb0e2" stroke-width="3.4" stroke-linejoin="miter"/>
<rect x="472.65" y="910.44" width="9.7" height="52.54" fill="#7b98cb" stroke="none" stroke-width="0"/>
<line x1="477.5" y1="850.33" x2="477.5" y2="962.98" stroke="#2d4560" stroke-width="1.8"/>
<line x1="475" y1="850.33" x2="480" y2="850.33" stroke="#222" stroke-width="2.2"/>
<line x1="472.65" y1="962.98" x2="482.35" y2="962.98" stroke="#2d4560" stroke-width="2"/>
<path d="M477.5 904.44L483.1 914.94L471.9 914.94Z" fill="#7f9fd6" stroke="none" stroke-width="0" stroke-linejoin="round"/>
<rect x="497.3" y="812.59" width="7.8" height="312.71" fill="#fff"/>
<path d="M497.3 1125.3V812.59H505.1V1125.3" fill="none" stroke="#767676" stroke-width="1.9" stroke-linejoin="miter"/>
<rect x="496.85" y="808.64" width="8.7" height="6.8" fill="#505050" stroke="none" stroke-width="0"/>
<rect x="511.7" y="804.61" width="7.8" height="320.69" fill="#fdfeff"/>
<path d="M511.7 1125.3V804.61H519.5V1125.3" fill="none" stroke="#8fa5d3" stroke-width="1.9" stroke-linejoin="miter"/>
<rect x="511.25" y="800.66" width="8.7" height="6.8" fill="#87a2d6" stroke="none" stroke-width="0"/>
<rect x="526.85" y="970.42" width="6.3" height="154.88" fill="#dadada"/>
<path d="M526.85 1125.3V970.42H533.15V1125.3" fill="none" stroke="#454545" stroke-width="3.4" stroke-linejoin="miter"/>
<line x1="530" y1="959.43" x2="530" y2="968.3" stroke="#222" stroke-width="1.8"/>
<line x1="527.5" y1="959.43" x2="532.5" y2="959.43" stroke="#222" stroke-width="2.2"/>
<circle cx="530" cy="968.72" r="3.75" fill="#a0a0a0" stroke="#454545" stroke-width="2.2"/>
<rect x="541.25" y="921.01" width="6.3" height="204.29" fill="#c3dbf7"/>
<path d="M541.25 1125.3V921.01H547.55V1125.3" fill="none" stroke="#8cb0e2" stroke-width="3.4" stroke-linejoin="miter"/>
<rect x="539.55" y="919.31" width="9.7" height="42.78" fill="#7b98cb" stroke="none" stroke-width="0"/>
<line x1="544.4" y1="867.18" x2="544.4" y2="962.09" stroke="#2d4560" stroke-width="1.8"/>
<line x1="541.9" y1="867.18" x2="546.9" y2="867.18" stroke="#222" stroke-width="2.2"/>
<line x1="539.55" y1="962.09" x2="549.25" y2="962.09" stroke="#2d4560" stroke-width="2"/>
<path d="M544.4 913.31L550 923.81L538.8 923.81Z" fill="#7f9fd6" stroke="none" stroke-width="0" stroke-linejoin="round"/>
<rect x="564.2" y="837.43" width="7.8" height="287.87" fill="#fff"/>
<path d="M564.2 1125.3V837.43H572V1125.3" fill="none" stroke="#767676" stroke-width="1.9" stroke-linejoin="miter"/>
<rect x="563.75" y="833.48" width="8.7" height="6.8" fill="#505050" stroke="none" stroke-width="0"/>
<rect x="578.6" y="831.22" width="7.8" height="294.08" fill="#fdfeff"/>
<path d="M578.6 1125.3V831.22H586.4V1125.3" fill="none" stroke="#8fa5d3" stroke-width="1.9" stroke-linejoin="miter"/>
<rect x="578.15" y="827.27" width="8.7" height="6.8" fill="#87a2d6" stroke="none" stroke-width="0"/>
<rect x="593.75" y="983.72" width="6.3" height="141.58" fill="#dadada"/>
<path d="M593.75 1125.3V983.72H600.05V1125.3" fill="none" stroke="#454545" stroke-width="3.4" stroke-linejoin="miter"/>
<line x1="596.9" y1="971.85" x2="596.9" y2="982.49" stroke="#222" stroke-width="1.8"/>
<line x1="594.4" y1="971.85" x2="599.4" y2="971.85" stroke="#222" stroke-width="2.2"/>
<circle cx="596.9" cy="982.02" r="3.75" fill="#a0a0a0" stroke="#454545" stroke-width="2.2"/>
<rect x="608.15" y="925.44" width="6.3" height="199.86" fill="#c3dbf7"/>
<path d="M608.15 1125.3V925.44H614.45V1125.3" fill="none" stroke="#8cb0e2" stroke-width="3.4" stroke-linejoin="miter"/>
<rect x="606.45" y="923.74" width="9.7" height="48.99" fill="#7b98cb" stroke="none" stroke-width="0"/>
<line x1="611.3" y1="865.41" x2="611.3" y2="972.74" stroke="#2d4560" stroke-width="1.8"/>
<line x1="608.8" y1="865.41" x2="613.8" y2="865.41" stroke="#222" stroke-width="2.2"/>
<line x1="606.45" y1="972.74" x2="616.15" y2="972.74" stroke="#2d4560" stroke-width="2"/>
<path d="M611.3 917.74L616.9 928.24L605.7 928.24Z" fill="#7f9fd6" stroke="none" stroke-width="0" stroke-linejoin="round"/>
<rect x="631.1" y="856.05" width="7.8" height="269.25" fill="#fff"/>
<path d="M631.1 1125.3V856.05H638.9V1125.3" fill="none" stroke="#767676" stroke-width="1.9" stroke-linejoin="miter"/>
<rect x="630.65" y="852.1" width="8.7" height="6.8" fill="#505050" stroke="none" stroke-width="0"/>
<rect x="645.5" y="844.52" width="7.8" height="280.78" fill="#fdfeff"/>
<path d="M645.5 1125.3V844.52H653.3V1125.3" fill="none" stroke="#8fa5d3" stroke-width="1.9" stroke-linejoin="miter"/>
<rect x="645.05" y="840.57" width="8.7" height="6.8" fill="#87a2d6" stroke="none" stroke-width="0"/>
<rect x="660.65" y="991.7" width="6.3" height="133.6" fill="#dadada"/>
<path d="M660.65 1125.3V991.7H666.95V1125.3" fill="none" stroke="#454545" stroke-width="3.4" stroke-linejoin="miter"/>
<line x1="663.8" y1="980.72" x2="663.8" y2="989.59" stroke="#222" stroke-width="1.8"/>
<line x1="661.3" y1="980.72" x2="666.3" y2="980.72" stroke="#222" stroke-width="2.2"/>
<circle cx="663.8" cy="990" r="3.75" fill="#a0a0a0" stroke="#454545" stroke-width="2.2"/>
<rect x="675.05" y="922.78" width="6.3" height="202.52" fill="#c3dbf7"/>
<path d="M675.05 1125.3V922.78H681.35V1125.3" fill="none" stroke="#8cb0e2" stroke-width="3.4" stroke-linejoin="miter"/>
<rect x="673.35" y="921.08" width="9.7" height="54.32" fill="#7b98cb" stroke="none" stroke-width="0"/>
<line x1="678.2" y1="861.86" x2="678.2" y2="975.4" stroke="#2d4560" stroke-width="1.8"/>
<line x1="675.7" y1="861.86" x2="680.7" y2="861.86" stroke="#222" stroke-width="2.2"/>
<line x1="673.35" y1="975.4" x2="683.05" y2="975.4" stroke="#2d4560" stroke-width="2"/>
<path d="M678.2 915.08L683.8 925.58L672.6 925.58Z" fill="#7f9fd6" stroke="none" stroke-width="0" stroke-linejoin="round"/>
<line x1="157" y1="769.5" x2="157" y2="1126.8" stroke="#000" stroke-width="3"/>
<line x1="141.6" y1="1125.3" x2="689.6" y2="1125.3" stroke="#000" stroke-width="3"/>
<line x1="141.6" y1="1125.3" x2="157" y2="1125.3" stroke="#000" stroke-width="3"/>
<line x1="141.6" y1="1036.6" x2="157" y2="1036.6" stroke="#000" stroke-width="3"/>
<line x1="141.6" y1="947.9" x2="157" y2="947.9" stroke="#000" stroke-width="3"/>
<line x1="141.6" y1="859.2" x2="157" y2="859.2" stroke="#000" stroke-width="3"/>
<line x1="141.6" y1="770.5" x2="157" y2="770.5" stroke="#000" stroke-width="3"/>
<line x1="188.3" y1="1125.3" x2="188.3" y2="1140.3" stroke="#000" stroke-width="3"/>
<line x1="255.2" y1="1125.3" x2="255.2" y2="1140.3" stroke="#000" stroke-width="3"/>
<line x1="322.1" y1="1125.3" x2="322.1" y2="1140.3" stroke="#000" stroke-width="3"/>
<line x1="389" y1="1125.3" x2="389" y2="1140.3" stroke="#000" stroke-width="3"/>
<line x1="455.9" y1="1125.3" x2="455.9" y2="1140.3" stroke="#000" stroke-width="3"/>
<line x1="522.8" y1="1125.3" x2="522.8" y2="1140.3" stroke="#000" stroke-width="3"/>
<line x1="589.7" y1="1125.3" x2="589.7" y2="1140.3" stroke="#000" stroke-width="3"/>
<line x1="656.6" y1="1125.3" x2="656.6" y2="1140.3" stroke="#000" stroke-width="3"/>
<text x="122.95" y="1134.6" font-size="21.5" textLength="12.79" lengthAdjust="spacingAndGlyphs" fill="#000">0</text>
<text x="110.15" y="1045.9" font-size="21.5" textLength="25.59" lengthAdjust="spacingAndGlyphs" fill="#000">10</text>
<text x="110.15" y="957.2" font-size="21.5" textLength="25.59" lengthAdjust="spacingAndGlyphs" fill="#000">20</text>
<text x="110.15" y="868.5" font-size="21.5" textLength="25.59" lengthAdjust="spacingAndGlyphs" fill="#000">30</text>
<text x="110.15" y="779.8" font-size="21.5" textLength="25.59" lengthAdjust="spacingAndGlyphs" fill="#000">40</text>
<text x="161.99" y="1168.3" font-size="26" textLength="52.63" lengthAdjust="spacingAndGlyphs" fill="#000">0.42</text>
<text x="247.21" y="1168.3" font-size="26" textLength="15.04" lengthAdjust="spacingAndGlyphs" fill="#000">1</text>
<text x="295.85" y="1168.3" font-size="26" textLength="52.63" lengthAdjust="spacingAndGlyphs" fill="#000">3.25</text>
<text x="381.49" y="1168.3" font-size="26" textLength="15.04" lengthAdjust="spacingAndGlyphs" fill="#000">7</text>
<text x="440.39" y="1168.3" font-size="26" textLength="30.08" lengthAdjust="spacingAndGlyphs" fill="#000">15</text>
<text x="496.39" y="1168.3" font-size="26" textLength="52.63" lengthAdjust="spacingAndGlyphs" fill="#000">27.5</text>
<text x="563.56" y="1168.3" font-size="26" textLength="52.63" lengthAdjust="spacingAndGlyphs" fill="#000">42.5</text>
<text x="630.25" y="1168.3" font-size="26" textLength="52.63" lengthAdjust="spacingAndGlyphs" fill="#000">57.5</text>
<text x="345.38" y="1216" font-size="28.34" textLength="145.66" lengthAdjust="spacingAndGlyphs" fill="#000">Time (min)</text>
<text transform="translate(90.2 1130.6) rotate(-90)" x="-1.81" y="0" font-size="30" textLength="367.44" lengthAdjust="spacingAndGlyphs" fill="#000">18F-FTHA in Liver (%ID/cc)</text>
<rect x="869.2" y="699.3" width="8" height="8" fill="#555" stroke="none" stroke-width="0"/>
<text x="913.47" y="711.42" font-size="28.47" textLength="124.21" lengthAdjust="spacingAndGlyphs" fill="#000">WT Chow</text>
<circle cx="1131.3" cy="702.1" r="3.6" fill="#9a9a9a" stroke="#555" stroke-width="1.4"/>
<text x="1171.97" y="711.5" font-size="28.61" textLength="106.03" lengthAdjust="spacingAndGlyphs" fill="#000">WT HFD</text>
<rect x="869.2" y="747.2" width="8" height="7.5" fill="#86a2d6" stroke="none" stroke-width="0"/>
<text x="912.45" y="761.2" font-size="28.47" textLength="71.45" lengthAdjust="spacingAndGlyphs" fill="#000">eIF4E</text>
<text x="984.41" y="749.17" font-size="20" textLength="25.63" lengthAdjust="spacingAndGlyphs" fill="#000">+/-</text>
<text x="1015.41" y="761.13" font-size="28.05" textLength="73.68" lengthAdjust="spacingAndGlyphs" fill="#000">Chow</text>
<path d="M1131.3 745L1136.7 755.9L1125.9 755.9Z" fill="#8eaadb" stroke="none" stroke-width="0" stroke-linejoin="round"/>
<text x="1170.96" y="761.2" font-size="28.47" textLength="71.14" lengthAdjust="spacingAndGlyphs" fill="#000">eIF4E</text>
<text x="1241.83" y="749.17" font-size="20" textLength="27.27" lengthAdjust="spacingAndGlyphs" fill="#000">+/-</text>
<text x="1273.29" y="761.2" font-size="28.47" textLength="56.33" lengthAdjust="spacingAndGlyphs" fill="#000">HFD</text>
<rect x="855.16" y="916.3" width="7.89" height="206" fill="#fff"/>
<path d="M855.16 1122.3V916.3H863.05V1122.3" fill="none" stroke="#767676" stroke-width="1.9" stroke-linejoin="miter"/>
<rect x="854.71" y="912.35" width="8.79" height="6.8" fill="#505050" stroke="none" stroke-width="0"/>
<rect x="869.69" y="978.09" width="7.89" height="144.21" fill="#fdfeff"/>
<path d="M869.69 1122.3V978.09H877.58V1122.3" fill="none" stroke="#8fa5d3" stroke-width="1.9" stroke-linejoin="miter"/>
<rect x="869.24" y="974.14" width="8.79" height="6.8" fill="#87a2d6" stroke="none" stroke-width="0"/>
<rect x="884.97" y="961.93" width="6.39" height="160.37" fill="#dadada"/>
<path d="M884.97 1122.3V961.93H891.36V1122.3" fill="none" stroke="#454545" stroke-width="3.4" stroke-linejoin="miter"/>
<circle cx="888.16" cy="960.23" r="3.79" fill="#a0a0a0" stroke="#454545" stroke-width="2.2"/>
<rect x="899.5" y="1006.02" width="6.39" height="116.28" fill="#c3dbf7"/>
<path d="M899.5 1122.3V1006.02H905.89V1122.3" fill="none" stroke="#8cb0e2" stroke-width="3.4" stroke-linejoin="miter"/>
<path d="M902.7 998.32L908.34 1008.82L897.05 1008.82Z" fill="#7f9fd6" stroke="none" stroke-width="0" stroke-linejoin="round"/>
<rect x="922.66" y="973.61" width="7.89" height="148.69" fill="#fff"/>
<path d="M922.66 1122.3V973.61H930.55V1122.3" fill="none" stroke="#767676" stroke-width="1.9" stroke-linejoin="miter"/>
<rect x="922.21" y="969.66" width="8.79" height="6.8" fill="#505050" stroke="none" stroke-width="0"/>
<rect x="937.19" y="1041.67" width="7.89" height="80.63" fill="#fdfeff"/>
<path d="M937.19 1122.3V1041.67H945.08V1122.3" fill="none" stroke="#8fa5d3" stroke-width="1.9" stroke-linejoin="miter"/>
<rect x="936.74" y="1037.72" width="8.79" height="6.8" fill="#87a2d6" stroke="none" stroke-width="0"/>
<rect x="952.47" y="1002.22" width="6.39" height="120.08" fill="#dadada"/>
<path d="M952.47 1122.3V1002.22H958.86V1122.3" fill="none" stroke="#454545" stroke-width="3.4" stroke-linejoin="miter"/>
<circle cx="955.66" cy="1000.52" r="3.79" fill="#a0a0a0" stroke="#454545" stroke-width="2.2"/>
<rect x="967" y="1008.7" width="6.39" height="113.6" fill="#c3dbf7"/>
<path d="M967 1122.3V1008.7H973.39V1122.3" fill="none" stroke="#8cb0e2" stroke-width="3.4" stroke-linejoin="miter"/>
<path d="M970.2 1001L975.84 1011.5L964.55 1011.5Z" fill="#7f9fd6" stroke="none" stroke-width="0" stroke-linejoin="round"/>
<rect x="990.16" y="892.12" width="7.89" height="230.18" fill="#fff"/>
<path d="M990.16 1122.3V892.12H998.05V1122.3" fill="none" stroke="#767676" stroke-width="1.9" stroke-linejoin="miter"/>
<rect x="989.71" y="888.17" width="8.79" height="6.8" fill="#505050" stroke="none" stroke-width="0"/>
<rect x="1004.69" y="951.22" width="7.89" height="171.08" fill="#fdfeff"/>
<path d="M1004.69 1122.3V951.22H1012.58V1122.3" fill="none" stroke="#8fa5d3" stroke-width="1.9" stroke-linejoin="miter"/>
<rect x="1004.24" y="947.27" width="8.79" height="6.8" fill="#87a2d6" stroke="none" stroke-width="0"/>
<rect x="1019.97" y="971.78" width="6.39" height="150.52" fill="#dadada"/>
<path d="M1019.97 1122.3V971.78H1026.36V1122.3" fill="none" stroke="#454545" stroke-width="3.4" stroke-linejoin="miter"/>
<circle cx="1023.16" cy="970.08" r="3.79" fill="#a0a0a0" stroke="#454545" stroke-width="2.2"/>
<rect x="1034.5" y="957.66" width="6.39" height="164.64" fill="#c3dbf7"/>
<path d="M1034.5 1122.3V957.66H1040.89V1122.3" fill="none" stroke="#8cb0e2" stroke-width="3.4" stroke-linejoin="miter"/>
<path d="M1037.7 949.96L1043.34 960.46L1032.05 960.46Z" fill="#7f9fd6" stroke="none" stroke-width="0" stroke-linejoin="round"/>
<rect x="1057.66" y="890.33" width="7.89" height="231.97" fill="#fff"/>
<path d="M1057.66 1122.3V890.33H1065.55V1122.3" fill="none" stroke="#767676" stroke-width="1.9" stroke-linejoin="miter"/>
<rect x="1057.21" y="886.38" width="8.79" height="6.8" fill="#505050" stroke="none" stroke-width="0"/>
<rect x="1072.19" y="886.75" width="7.89" height="235.55" fill="#fdfeff"/>
<path d="M1072.19 1122.3V886.75H1080.08V1122.3" fill="none" stroke="#8fa5d3" stroke-width="1.9" stroke-linejoin="miter"/>
<rect x="1071.74" y="882.8" width="8.79" height="6.8" fill="#87a2d6" stroke="none" stroke-width="0"/>
<rect x="1087.47" y="956.55" width="6.39" height="165.75" fill="#dadada"/>
<path d="M1087.47 1122.3V956.55H1093.86V1122.3" fill="none" stroke="#454545" stroke-width="3.4" stroke-linejoin="miter"/>
<circle cx="1090.66" cy="954.85" r="3.79" fill="#a0a0a0" stroke="#454545" stroke-width="2.2"/>
<rect x="1102" y="914.68" width="6.39" height="207.62" fill="#c3dbf7"/>
<path d="M1102 1122.3V914.68H1108.39V1122.3" fill="none" stroke="#8cb0e2" stroke-width="3.4" stroke-linejoin="miter"/>
<path d="M1105.2 906.98L1110.84 917.48L1099.55 917.48Z" fill="#7f9fd6" stroke="none" stroke-width="0" stroke-linejoin="round"/>
<rect x="1125.16" y="924.36" width="7.89" height="197.94" fill="#fff"/>
<path d="M1125.16 1122.3V924.36H1133.05V1122.3" fill="none" stroke="#767676" stroke-width="1.9" stroke-linejoin="miter"/>
<rect x="1124.71" y="920.41" width="8.79" height="6.8" fill="#505050" stroke="none" stroke-width="0"/>
<rect x="1139.69" y="928.84" width="7.89" height="193.46" fill="#fdfeff"/>
<path d="M1139.69 1122.3V928.84H1147.58V1122.3" fill="none" stroke="#8fa5d3" stroke-width="1.9" stroke-linejoin="miter"/>
<rect x="1139.24" y="924.89" width="8.79" height="6.8" fill="#87a2d6" stroke="none" stroke-width="0"/>
<rect x="1154.97" y="965.51" width="6.39" height="156.79" fill="#dadada"/>
<path d="M1154.97 1122.3V965.51H1161.36V1122.3" fill="none" stroke="#454545" stroke-width="3.4" stroke-linejoin="miter"/>
<circle cx="1158.16" cy="963.81" r="3.79" fill="#a0a0a0" stroke="#454545" stroke-width="2.2"/>
<rect x="1169.5" y="925.42" width="6.39" height="196.88" fill="#c3dbf7"/>
<path d="M1169.5 1122.3V925.42H1175.89V1122.3" fill="none" stroke="#8cb0e2" stroke-width="3.4" stroke-linejoin="miter"/>
<path d="M1172.7 917.72L1178.34 928.22L1167.05 928.22Z" fill="#7f9fd6" stroke="none" stroke-width="0" stroke-linejoin="round"/>
<rect x="1192.66" y="949.43" width="7.89" height="172.87" fill="#fff"/>
<path d="M1192.66 1122.3V949.43H1200.55V1122.3" fill="none" stroke="#767676" stroke-width="1.9" stroke-linejoin="miter"/>
<rect x="1192.21" y="945.48" width="8.79" height="6.8" fill="#505050" stroke="none" stroke-width="0"/>
<rect x="1207.19" y="963.76" width="7.89" height="158.54" fill="#fdfeff"/>
<path d="M1207.19 1122.3V963.76H1215.08V1122.3" fill="none" stroke="#8fa5d3" stroke-width="1.9" stroke-linejoin="miter"/>
<rect x="1206.74" y="959.81" width="8.79" height="6.8" fill="#87a2d6" stroke="none" stroke-width="0"/>
<rect x="1222.47" y="986.1" width="6.39" height="136.2" fill="#dadada"/>
<path d="M1222.47 1122.3V986.1H1228.86V1122.3" fill="none" stroke="#454545" stroke-width="3.4" stroke-linejoin="miter"/>
<circle cx="1225.66" cy="984.4" r="3.79" fill="#a0a0a0" stroke="#454545" stroke-width="2.2"/>
<rect x="1237" y="959.45" width="6.39" height="162.85" fill="#c3dbf7"/>
<path d="M1237 1122.3V959.45H1243.39V1122.3" fill="none" stroke="#8cb0e2" stroke-width="3.4" stroke-linejoin="miter"/>
<path d="M1240.2 951.75L1245.84 962.25L1234.55 962.25Z" fill="#7f9fd6" stroke="none" stroke-width="0" stroke-linejoin="round"/>
<rect x="1260.16" y="976.3" width="7.89" height="146" fill="#fff"/>
<path d="M1260.16 1122.3V976.3H1268.05V1122.3" fill="none" stroke="#767676" stroke-width="1.9" stroke-linejoin="miter"/>
<rect x="1259.71" y="972.35" width="8.79" height="6.8" fill="#505050" stroke="none" stroke-width="0"/>
<rect x="1274.69" y="975.4" width="7.89" height="146.9" fill="#fdfeff"/>
<path d="M1274.69 1122.3V975.4H1282.58V1122.3" fill="none" stroke="#8fa5d3" stroke-width="1.9" stroke-linejoin="miter"/>
<rect x="1274.24" y="971.45" width="8.79" height="6.8" fill="#87a2d6" stroke="none" stroke-width="0"/>
<rect x="1289.97" y="1004.01" width="6.39" height="118.29" fill="#dadada"/>
<path d="M1289.97 1122.3V1004.01H1296.36V1122.3" fill="none" stroke="#454545" stroke-width="3.4" stroke-linejoin="miter"/>
<circle cx="1293.16" cy="1002.31" r="3.79" fill="#a0a0a0" stroke="#454545" stroke-width="2.2"/>
<rect x="1304.5" y="980.05" width="6.39" height="142.25" fill="#c3dbf7"/>
<path d="M1304.5 1122.3V980.05H1310.89V1122.3" fill="none" stroke="#8cb0e2" stroke-width="3.4" stroke-linejoin="miter"/>
<path d="M1307.7 972.35L1313.34 982.85L1302.05 982.85Z" fill="#7f9fd6" stroke="none" stroke-width="0" stroke-linejoin="round"/>
<rect x="1327.66" y="992.42" width="7.89" height="129.88" fill="#fff"/>
<path d="M1327.66 1122.3V992.42H1335.55V1122.3" fill="none" stroke="#767676" stroke-width="1.9" stroke-linejoin="miter"/>
<rect x="1327.21" y="988.47" width="8.79" height="6.8" fill="#505050" stroke="none" stroke-width="0"/>
<rect x="1342.19" y="1003.16" width="7.89" height="119.14" fill="#fdfeff"/>
<path d="M1342.19 1122.3V1003.16H1350.08V1122.3" fill="none" stroke="#8fa5d3" stroke-width="1.9" stroke-linejoin="miter"/>
<rect x="1341.74" y="999.21" width="8.79" height="6.8" fill="#87a2d6" stroke="none" stroke-width="0"/>
<rect x="1357.47" y="1013.87" width="6.39" height="108.43" fill="#dadada"/>
<path d="M1357.47 1122.3V1013.87H1363.86V1122.3" fill="none" stroke="#454545" stroke-width="3.4" stroke-linejoin="miter"/>
<circle cx="1360.66" cy="1012.17" r="3.79" fill="#a0a0a0" stroke="#454545" stroke-width="2.2"/>
<rect x="1372" y="991.69" width="6.39" height="130.61" fill="#c3dbf7"/>
<path d="M1372 1122.3V991.69H1378.39V1122.3" fill="none" stroke="#8cb0e2" stroke-width="3.4" stroke-linejoin="miter"/>
<path d="M1375.2 983.99L1380.84 994.49L1369.55 994.49Z" fill="#7f9fd6" stroke="none" stroke-width="0" stroke-linejoin="round"/>
<line x1="849.5" y1="763.1" x2="849.5" y2="1123.8" stroke="#000" stroke-width="3"/>
<line x1="834.6" y1="1122.3" x2="1387.2" y2="1122.3" stroke="#000" stroke-width="3"/>
<line x1="834.6" y1="1122.3" x2="849.5" y2="1122.3" stroke="#000" stroke-width="3"/>
<line x1="834.6" y1="1032.75" x2="849.5" y2="1032.75" stroke="#000" stroke-width="3"/>
<line x1="834.6" y1="943.2" x2="849.5" y2="943.2" stroke="#000" stroke-width="3"/>
<line x1="834.6" y1="853.65" x2="849.5" y2="853.65" stroke="#000" stroke-width="3"/>
<line x1="834.6" y1="764.1" x2="849.5" y2="764.1" stroke="#000" stroke-width="3"/>
<line x1="880.9" y1="1122.3" x2="880.9" y2="1137.3" stroke="#000" stroke-width="3"/>
<line x1="948.4" y1="1122.3" x2="948.4" y2="1137.3" stroke="#000" stroke-width="3"/>
<line x1="1015.9" y1="1122.3" x2="1015.9" y2="1137.3" stroke="#000" stroke-width="3"/>
<line x1="1083.4" y1="1122.3" x2="1083.4" y2="1137.3" stroke="#000" stroke-width="3"/>
<line x1="1150.9" y1="1122.3" x2="1150.9" y2="1137.3" stroke="#000" stroke-width="3"/>
<line x1="1218.4" y1="1122.3" x2="1218.4" y2="1137.3" stroke="#000" stroke-width="3"/>
<line x1="1285.9" y1="1122.3" x2="1285.9" y2="1137.3" stroke="#000" stroke-width="3"/>
<line x1="1353.4" y1="1122.3" x2="1353.4" y2="1137.3" stroke="#000" stroke-width="3"/>
<text x="818.55" y="1131.6" font-size="21.5" textLength="12.79" lengthAdjust="spacingAndGlyphs" fill="#000">0</text>
<text x="818.25" y="1042.05" font-size="21.5" textLength="12.79" lengthAdjust="spacingAndGlyphs" fill="#000">1</text>
<text x="818.53" y="952.5" font-size="21.5" textLength="12.79" lengthAdjust="spacingAndGlyphs" fill="#000">2</text>
<text x="818.44" y="862.95" font-size="21.5" textLength="12.79" lengthAdjust="spacingAndGlyphs" fill="#000">3</text>
<text x="817.73" y="773.4" font-size="21.5" textLength="12.79" lengthAdjust="spacingAndGlyphs" fill="#000">4</text>
<text x="854.59" y="1165" font-size="26" textLength="52.63" lengthAdjust="spacingAndGlyphs" fill="#000">0.42</text>
<text x="940.41" y="1165" font-size="26" textLength="15.04" lengthAdjust="spacingAndGlyphs" fill="#000">1</text>
<text x="989.65" y="1165" font-size="26" textLength="52.63" lengthAdjust="spacingAndGlyphs" fill="#000">3.25</text>
<text x="1075.89" y="1165" font-size="26" textLength="15.04" lengthAdjust="spacingAndGlyphs" fill="#000">7</text>
<text x="1135.39" y="1165" font-size="26" textLength="30.08" lengthAdjust="spacingAndGlyphs" fill="#000">15</text>
<text x="1191.99" y="1165" font-size="26" textLength="52.63" lengthAdjust="spacingAndGlyphs" fill="#000">27.5</text>
<text x="1259.76" y="1165" font-size="26" textLength="52.63" lengthAdjust="spacingAndGlyphs" fill="#000">42.5</text>
<text x="1327.05" y="1165" font-size="26" textLength="52.63" lengthAdjust="spacingAndGlyphs" fill="#000">57.5</text>
<text x="1041.08" y="1213" font-size="28.34" textLength="145.66" lengthAdjust="spacingAndGlyphs" fill="#000">Time (min)</text>
<text transform="translate(782.6 1129.9) rotate(-90)" x="-1.84" y="0" font-size="30" textLength="378.09" lengthAdjust="spacingAndGlyphs" fill="#000">18F-FTHA in Brain (%ID/cc)</text>
<rect x="169.6" y="1271.8" width="8" height="8" fill="#555" stroke="none" stroke-width="0"/>
<text x="213.47" y="1283.93" font-size="27.5" textLength="119.95" lengthAdjust="spacingAndGlyphs" fill="#000">WT Chow</text>
<circle cx="424.8" cy="1274.6" r="3.6" fill="#9a9a9a" stroke="#555" stroke-width="1.4"/>
<text x="463.87" y="1284" font-size="27.63" textLength="102.39" lengthAdjust="spacingAndGlyphs" fill="#000">WT HFD</text>
<rect x="169.6" y="1319.3" width="8" height="7.5" fill="#86a2d6" stroke="none" stroke-width="0"/>
<text x="212.49" y="1333.3" font-size="27.49" textLength="69" lengthAdjust="spacingAndGlyphs" fill="#000">eIF4E</text>
<text x="281.97" y="1321.68" font-size="19.31" textLength="24.75" lengthAdjust="spacingAndGlyphs" fill="#000">+/-</text>
<text x="311.91" y="1333.24" font-size="27.1" textLength="71.15" lengthAdjust="spacingAndGlyphs" fill="#000">Chow</text>
<path d="M424.8 1317.1L430.2 1328L419.4 1328Z" fill="#8eaadb" stroke="none" stroke-width="0" stroke-linejoin="round"/>
<text x="462.89" y="1333.3" font-size="27.49" textLength="68.7" lengthAdjust="spacingAndGlyphs" fill="#000">eIF4E</text>
<text x="531.33" y="1321.68" font-size="19.31" textLength="26.33" lengthAdjust="spacingAndGlyphs" fill="#000">+/-</text>
<text x="561.71" y="1333.3" font-size="27.49" textLength="54.4" lengthAdjust="spacingAndGlyphs" fill="#000">HFD</text>
<rect x="156.27" y="1667.81" width="7.63" height="15.19" fill="#fff"/>
<path d="M156.27 1683V1667.81H163.9V1683" fill="none" stroke="#767676" stroke-width="1.9" stroke-linejoin="miter"/>
<rect x="155.82" y="1663.86" width="8.53" height="6.8" fill="#505050" stroke="none" stroke-width="0"/>
<rect x="170.42" y="1612.13" width="7.63" height="70.87" fill="#fdfeff"/>
<path d="M170.42 1683V1612.13H178.04V1683" fill="none" stroke="#8fa5d3" stroke-width="1.9" stroke-linejoin="miter"/>
<rect x="169.97" y="1608.18" width="8.53" height="6.8" fill="#87a2d6" stroke="none" stroke-width="0"/>
<rect x="185.31" y="1639.87" width="6.13" height="43.13" fill="#dadada"/>
<path d="M185.31 1683V1639.87H191.43V1683" fill="none" stroke="#454545" stroke-width="3.4" stroke-linejoin="miter"/>
<circle cx="188.37" cy="1638.17" r="3.66" fill="#a0a0a0" stroke="#454545" stroke-width="2.2"/>
<rect x="199.45" y="1641.11" width="6.13" height="41.89" fill="#c3dbf7"/>
<path d="M199.45 1683V1641.11H205.58V1683" fill="none" stroke="#8cb0e2" stroke-width="3.4" stroke-linejoin="miter"/>
<path d="M202.51 1633.41L208.03 1643.91L197 1643.91Z" fill="#7f9fd6" stroke="none" stroke-width="0" stroke-linejoin="round"/>
<rect x="221.97" y="1592.12" width="7.63" height="90.88" fill="#fff"/>
<path d="M221.97 1683V1592.12H229.6V1683" fill="none" stroke="#767676" stroke-width="1.9" stroke-linejoin="miter"/>
<rect x="221.52" y="1588.17" width="8.53" height="6.8" fill="#505050" stroke="none" stroke-width="0"/>
<rect x="236.12" y="1614.74" width="7.63" height="68.26" fill="#fdfeff"/>
<path d="M236.12 1683V1614.74H243.74V1683" fill="none" stroke="#8fa5d3" stroke-width="1.9" stroke-linejoin="miter"/>
<rect x="235.67" y="1610.79" width="8.53" height="6.8" fill="#87a2d6" stroke="none" stroke-width="0"/>
<rect x="251.01" y="1641.61" width="6.13" height="41.39" fill="#dadada"/>
<path d="M251.01 1683V1641.61H257.13V1683" fill="none" stroke="#454545" stroke-width="3.4" stroke-linejoin="miter"/>
<circle cx="254.07" cy="1639.91" r="3.66" fill="#a0a0a0" stroke="#454545" stroke-width="2.2"/>
<rect x="265.15" y="1631.54" width="6.13" height="51.46" fill="#c3dbf7"/>
<path d="M265.15 1683V1631.54H271.28V1683" fill="none" stroke="#8cb0e2" stroke-width="3.4" stroke-linejoin="miter"/>
<path d="M268.21 1623.84L273.73 1634.34L262.7 1634.34Z" fill="#7f9fd6" stroke="none" stroke-width="0" stroke-linejoin="round"/>
<rect x="287.67" y="1559.93" width="7.63" height="123.07" fill="#fff"/>
<path d="M287.67 1683V1559.93H295.3V1683" fill="none" stroke="#767676" stroke-width="1.9" stroke-linejoin="miter"/>
<rect x="287.22" y="1555.98" width="8.53" height="6.8" fill="#505050" stroke="none" stroke-width="0"/>
<rect x="301.82" y="1581.68" width="7.63" height="101.32" fill="#fdfeff"/>
<path d="M301.82 1683V1581.68H309.44V1683" fill="none" stroke="#8fa5d3" stroke-width="1.9" stroke-linejoin="miter"/>
<rect x="301.37" y="1577.73" width="8.53" height="6.8" fill="#87a2d6" stroke="none" stroke-width="0"/>
<rect x="316.71" y="1645.96" width="6.13" height="37.04" fill="#dadada"/>
<path d="M316.71 1683V1645.96H322.83V1683" fill="none" stroke="#454545" stroke-width="3.4" stroke-linejoin="miter"/>
<circle cx="319.77" cy="1644.26" r="3.66" fill="#a0a0a0" stroke="#454545" stroke-width="2.2"/>
<rect x="330.85" y="1623.71" width="6.13" height="59.29" fill="#c3dbf7"/>
<path d="M330.85 1683V1623.71H336.98V1683" fill="none" stroke="#8cb0e2" stroke-width="3.4" stroke-linejoin="miter"/>
<path d="M333.91 1616.01L339.43 1626.51L328.4 1626.51Z" fill="#7f9fd6" stroke="none" stroke-width="0" stroke-linejoin="round"/>
<rect x="353.37" y="1551.23" width="7.63" height="131.77" fill="#fff"/>
<path d="M353.37 1683V1551.23H361V1683" fill="none" stroke="#767676" stroke-width="1.9" stroke-linejoin="miter"/>
<rect x="352.92" y="1547.28" width="8.53" height="6.8" fill="#505050" stroke="none" stroke-width="0"/>
<rect x="367.52" y="1537.31" width="7.63" height="145.69" fill="#fdfeff"/>
<path d="M367.52 1683V1537.31H375.14V1683" fill="none" stroke="#8fa5d3" stroke-width="1.9" stroke-linejoin="miter"/>
<rect x="367.07" y="1533.36" width="8.53" height="6.8" fill="#87a2d6" stroke="none" stroke-width="0"/>
<rect x="382.41" y="1649.44" width="6.13" height="33.56" fill="#dadada"/>
<path d="M382.41 1683V1649.44H388.53V1683" fill="none" stroke="#454545" stroke-width="3.4" stroke-linejoin="miter"/>
<circle cx="385.47" cy="1647.74" r="3.66" fill="#a0a0a0" stroke="#454545" stroke-width="2.2"/>
<rect x="396.55" y="1608.05" width="6.13" height="74.95" fill="#c3dbf7"/>
<path d="M396.55 1683V1608.05H402.68V1683" fill="none" stroke="#8cb0e2" stroke-width="3.4" stroke-linejoin="miter"/>
<path d="M399.61 1600.35L405.13 1610.85L394.1 1610.85Z" fill="#7f9fd6" stroke="none" stroke-width="0" stroke-linejoin="round"/>
<rect x="419.07" y="1549.49" width="7.63" height="133.51" fill="#fff"/>
<path d="M419.07 1683V1549.49H426.7V1683" fill="none" stroke="#767676" stroke-width="1.9" stroke-linejoin="miter"/>
<rect x="418.62" y="1545.54" width="8.53" height="6.8" fill="#505050" stroke="none" stroke-width="0"/>
<rect x="433.22" y="1533.83" width="7.63" height="149.17" fill="#fdfeff"/>
<path d="M433.22 1683V1533.83H440.84V1683" fill="none" stroke="#8fa5d3" stroke-width="1.9" stroke-linejoin="miter"/>
<rect x="432.77" y="1529.88" width="8.53" height="6.8" fill="#87a2d6" stroke="none" stroke-width="0"/>
<rect x="448.11" y="1645.96" width="6.13" height="37.04" fill="#dadada"/>
<path d="M448.11 1683V1645.96H454.23V1683" fill="none" stroke="#454545" stroke-width="3.4" stroke-linejoin="miter"/>
<circle cx="451.17" cy="1644.26" r="3.66" fill="#a0a0a0" stroke="#454545" stroke-width="2.2"/>
<rect x="462.25" y="1616.75" width="6.13" height="66.25" fill="#c3dbf7"/>
<path d="M462.25 1683V1616.75H468.38V1683" fill="none" stroke="#8cb0e2" stroke-width="3.4" stroke-linejoin="miter"/>
<path d="M465.31 1609.05L470.83 1619.55L459.8 1619.55Z" fill="#7f9fd6" stroke="none" stroke-width="0" stroke-linejoin="round"/>
<rect x="484.77" y="1541.66" width="7.63" height="141.34" fill="#fff"/>
<path d="M484.77 1683V1541.66H492.4V1683" fill="none" stroke="#767676" stroke-width="1.9" stroke-linejoin="miter"/>
<rect x="484.32" y="1537.71" width="8.53" height="6.8" fill="#505050" stroke="none" stroke-width="0"/>
<rect x="498.92" y="1518.17" width="7.63" height="164.83" fill="#fdfeff"/>
<path d="M498.92 1683V1518.17H506.54V1683" fill="none" stroke="#8fa5d3" stroke-width="1.9" stroke-linejoin="miter"/>
<rect x="498.47" y="1514.22" width="8.53" height="6.8" fill="#87a2d6" stroke="none" stroke-width="0"/>
<rect x="513.81" y="1637.26" width="6.13" height="45.74" fill="#dadada"/>
<path d="M513.81 1683V1637.26H519.93V1683" fill="none" stroke="#454545" stroke-width="3.4" stroke-linejoin="miter"/>
<circle cx="516.87" cy="1635.56" r="3.66" fill="#a0a0a0" stroke="#454545" stroke-width="2.2"/>
<rect x="527.95" y="1617.62" width="6.13" height="65.38" fill="#c3dbf7"/>
<path d="M527.95 1683V1617.62H534.08V1683" fill="none" stroke="#8cb0e2" stroke-width="3.4" stroke-linejoin="miter"/>
<path d="M531.01 1609.92L536.53 1620.42L525.5 1620.42Z" fill="#7f9fd6" stroke="none" stroke-width="0" stroke-linejoin="round"/>
<rect x="550.47" y="1508.6" width="7.63" height="174.4" fill="#fff"/>
<path d="M550.47 1683V1508.6H558.1V1683" fill="none" stroke="#767676" stroke-width="1.9" stroke-linejoin="miter"/>
<rect x="550.02" y="1504.65" width="8.53" height="6.8" fill="#505050" stroke="none" stroke-width="0"/>
<rect x="564.62" y="1509.47" width="7.63" height="173.53" fill="#fdfeff"/>
<path d="M564.62 1683V1509.47H572.24V1683" fill="none" stroke="#8fa5d3" stroke-width="1.9" stroke-linejoin="miter"/>
<rect x="564.17" y="1505.52" width="8.53" height="6.8" fill="#87a2d6" stroke="none" stroke-width="0"/>
<rect x="579.51" y="1634.65" width="6.13" height="48.35" fill="#dadada"/>
<path d="M579.51 1683V1634.65H585.63V1683" fill="none" stroke="#454545" stroke-width="3.4" stroke-linejoin="miter"/>
<circle cx="582.57" cy="1632.95" r="3.66" fill="#a0a0a0" stroke="#454545" stroke-width="2.2"/>
<rect x="593.65" y="1604.57" width="6.13" height="78.43" fill="#c3dbf7"/>
<path d="M593.65 1683V1604.57H599.78V1683" fill="none" stroke="#8cb0e2" stroke-width="3.4" stroke-linejoin="miter"/>
<path d="M596.71 1596.87L602.23 1607.37L591.2 1607.37Z" fill="#7f9fd6" stroke="none" stroke-width="0" stroke-linejoin="round"/>
<rect x="616.17" y="1480.76" width="7.63" height="202.24" fill="#fff"/>
<path d="M616.17 1683V1480.76H623.8V1683" fill="none" stroke="#767676" stroke-width="1.9" stroke-linejoin="miter"/>
<rect x="615.72" y="1476.81" width="8.53" height="6.8" fill="#505050" stroke="none" stroke-width="0"/>
<rect x="630.32" y="1530.35" width="7.63" height="152.65" fill="#fdfeff"/>
<path d="M630.32 1683V1530.35H637.94V1683" fill="none" stroke="#8fa5d3" stroke-width="1.9" stroke-linejoin="miter"/>
<rect x="629.87" y="1526.4" width="8.53" height="6.8" fill="#87a2d6" stroke="none" stroke-width="0"/>
<rect x="645.21" y="1640.74" width="6.13" height="42.26" fill="#dadada"/>
<path d="M645.21 1683V1640.74H651.33V1683" fill="none" stroke="#454545" stroke-width="3.4" stroke-linejoin="miter"/>
<circle cx="648.27" cy="1639.04" r="3.66" fill="#a0a0a0" stroke="#454545" stroke-width="2.2"/>
<rect x="659.35" y="1610.66" width="6.13" height="72.34" fill="#c3dbf7"/>
<path d="M659.35 1683V1610.66H665.48V1683" fill="none" stroke="#8cb0e2" stroke-width="3.4" stroke-linejoin="miter"/>
<path d="M662.41 1602.96L667.93 1613.46L656.9 1613.46Z" fill="#7f9fd6" stroke="none" stroke-width="0" stroke-linejoin="round"/>
<line x1="150.7" y1="1334" x2="150.7" y2="1684.5" stroke="#000" stroke-width="3"/>
<line x1="136.1" y1="1683" x2="674.2" y2="1683" stroke="#000" stroke-width="3"/>
<line x1="136.1" y1="1683" x2="150.7" y2="1683" stroke="#000" stroke-width="3"/>
<line x1="136.1" y1="1596" x2="150.7" y2="1596" stroke="#000" stroke-width="3"/>
<line x1="136.1" y1="1509" x2="150.7" y2="1509" stroke="#000" stroke-width="3"/>
<line x1="136.1" y1="1422" x2="150.7" y2="1422" stroke="#000" stroke-width="3"/>
<line x1="136.1" y1="1335" x2="150.7" y2="1335" stroke="#000" stroke-width="3"/>
<line x1="181.3" y1="1683" x2="181.3" y2="1698" stroke="#000" stroke-width="3"/>
<line x1="247" y1="1683" x2="247" y2="1698" stroke="#000" stroke-width="3"/>
<line x1="312.7" y1="1683" x2="312.7" y2="1698" stroke="#000" stroke-width="3"/>
<line x1="378.4" y1="1683" x2="378.4" y2="1698" stroke="#000" stroke-width="3"/>
<line x1="444.1" y1="1683" x2="444.1" y2="1698" stroke="#000" stroke-width="3"/>
<line x1="509.8" y1="1683" x2="509.8" y2="1698" stroke="#000" stroke-width="3"/>
<line x1="575.5" y1="1683" x2="575.5" y2="1698" stroke="#000" stroke-width="3"/>
<line x1="641.2" y1="1683" x2="641.2" y2="1698" stroke="#000" stroke-width="3"/>
<text x="119.15" y="1692.3" font-size="21.5" textLength="12.79" lengthAdjust="spacingAndGlyphs" fill="#000">0</text>
<text x="118.85" y="1605.3" font-size="21.5" textLength="12.79" lengthAdjust="spacingAndGlyphs" fill="#000">1</text>
<text x="119.13" y="1518.3" font-size="21.5" textLength="12.79" lengthAdjust="spacingAndGlyphs" fill="#000">2</text>
<text x="119.04" y="1431.3" font-size="21.5" textLength="12.79" lengthAdjust="spacingAndGlyphs" fill="#000">3</text>
<text x="118.33" y="1344.3" font-size="21.5" textLength="12.79" lengthAdjust="spacingAndGlyphs" fill="#000">4</text>
<text x="155.5" y="1725" font-size="25.5" textLength="51.62" lengthAdjust="spacingAndGlyphs" fill="#000">0.42</text>
<text x="239.16" y="1725" font-size="25.5" textLength="14.75" lengthAdjust="spacingAndGlyphs" fill="#000">1</text>
<text x="286.96" y="1725" font-size="25.5" textLength="51.62" lengthAdjust="spacingAndGlyphs" fill="#000">3.25</text>
<text x="371.04" y="1725" font-size="25.5" textLength="14.75" lengthAdjust="spacingAndGlyphs" fill="#000">7</text>
<text x="428.88" y="1725" font-size="25.5" textLength="29.5" lengthAdjust="spacingAndGlyphs" fill="#000">15</text>
<text x="483.9" y="1725" font-size="25.5" textLength="51.62" lengthAdjust="spacingAndGlyphs" fill="#000">27.5</text>
<text x="549.86" y="1725" font-size="25.5" textLength="51.62" lengthAdjust="spacingAndGlyphs" fill="#000">42.5</text>
<text x="615.35" y="1725" font-size="25.5" textLength="51.62" lengthAdjust="spacingAndGlyphs" fill="#000">57.5</text>
<text x="336.18" y="1771" font-size="29.07" textLength="142.32" lengthAdjust="spacingAndGlyphs" fill="#000">Time (min)</text>
<text transform="translate(85.6 1681.8) rotate(-90)" x="-1.77" y="0" font-size="29.8" textLength="349.87" lengthAdjust="spacingAndGlyphs" fill="#000">18F-FTHA in BAT (%ID/cc)</text>
<rect x="889" y="1261.1" width="8" height="8" fill="#555" stroke="none" stroke-width="0"/>
<text x="933.57" y="1273.22" font-size="28.69" textLength="125.18" lengthAdjust="spacingAndGlyphs" fill="#000">WT Chow</text>
<circle cx="1152.9" cy="1263.9" r="3.6" fill="#9a9a9a" stroke="#555" stroke-width="1.4"/>
<text x="1194.17" y="1273.3" font-size="28.84" textLength="106.86" lengthAdjust="spacingAndGlyphs" fill="#000">WT HFD</text>
<rect x="889" y="1309.4" width="8" height="7.5" fill="#86a2d6" stroke="none" stroke-width="0"/>
<text x="932.55" y="1323.4" font-size="28.69" textLength="72.01" lengthAdjust="spacingAndGlyphs" fill="#000">eIF4E</text>
<text x="1005.06" y="1311.28" font-size="20.16" textLength="25.83" lengthAdjust="spacingAndGlyphs" fill="#000">+/-</text>
<text x="1036.31" y="1323.32" font-size="28.27" textLength="74.26" lengthAdjust="spacingAndGlyphs" fill="#000">Chow</text>
<path d="M1152.9 1307.2L1158.3 1318.1L1147.5 1318.1Z" fill="#8eaadb" stroke="none" stroke-width="0" stroke-linejoin="round"/>
<text x="1193.15" y="1323.4" font-size="28.69" textLength="71.7" lengthAdjust="spacingAndGlyphs" fill="#000">eIF4E</text>
<text x="1264.58" y="1311.28" font-size="20.16" textLength="27.48" lengthAdjust="spacingAndGlyphs" fill="#000">+/-</text>
<text x="1296.28" y="1323.4" font-size="28.69" textLength="56.77" lengthAdjust="spacingAndGlyphs" fill="#000">HFD</text>
<rect x="874.24" y="1641.6" width="7.97" height="45.61" fill="#fff"/>
<path d="M874.24 1687.2V1641.6H882.21V1687.2" fill="none" stroke="#767676" stroke-width="1.9" stroke-linejoin="miter"/>
<rect x="873.79" y="1637.64" width="8.87" height="6.8" fill="#505050" stroke="none" stroke-width="0"/>
<rect x="888.89" y="1640.69" width="7.97" height="46.51" fill="#fdfeff"/>
<path d="M888.89 1687.2V1640.69H896.86V1687.2" fill="none" stroke="#8fa5d3" stroke-width="1.9" stroke-linejoin="miter"/>
<rect x="888.44" y="1636.74" width="8.87" height="6.8" fill="#87a2d6" stroke="none" stroke-width="0"/>
<rect x="904.29" y="1647.88" width="6.47" height="39.32" fill="#dadada"/>
<path d="M904.29 1687.2V1647.88H910.76V1687.2" fill="none" stroke="#454545" stroke-width="3.4" stroke-linejoin="miter"/>
<circle cx="907.52" cy="1646.18" r="3.83" fill="#a0a0a0" stroke="#454545" stroke-width="2.2"/>
<rect x="918.94" y="1628.23" width="6.47" height="58.97" fill="#c3dbf7"/>
<path d="M918.94 1687.2V1628.23H925.41V1687.2" fill="none" stroke="#8cb0e2" stroke-width="3.4" stroke-linejoin="miter"/>
<path d="M922.17 1620.53L927.86 1631.03L916.49 1631.03Z" fill="#7f9fd6" stroke="none" stroke-width="0" stroke-linejoin="round"/>
<rect x="942.29" y="1652.41" width="7.97" height="34.79" fill="#fff"/>
<path d="M942.29 1687.2V1652.41H950.26V1687.2" fill="none" stroke="#767676" stroke-width="1.9" stroke-linejoin="miter"/>
<rect x="941.84" y="1648.46" width="8.87" height="6.8" fill="#505050" stroke="none" stroke-width="0"/>
<rect x="956.94" y="1631.68" width="7.97" height="55.52" fill="#fdfeff"/>
<path d="M956.94 1687.2V1631.68H964.91V1687.2" fill="none" stroke="#8fa5d3" stroke-width="1.9" stroke-linejoin="miter"/>
<rect x="956.49" y="1627.73" width="8.87" height="6.8" fill="#87a2d6" stroke="none" stroke-width="0"/>
<rect x="972.34" y="1652.39" width="6.47" height="34.81" fill="#dadada"/>
<path d="M972.34 1687.2V1652.39H978.81V1687.2" fill="none" stroke="#454545" stroke-width="3.4" stroke-linejoin="miter"/>
<circle cx="975.57" cy="1650.69" r="3.83" fill="#a0a0a0" stroke="#454545" stroke-width="2.2"/>
<rect x="986.99" y="1621.92" width="6.47" height="65.28" fill="#c3dbf7"/>
<path d="M986.99 1687.2V1621.92H993.46V1687.2" fill="none" stroke="#8cb0e2" stroke-width="3.4" stroke-linejoin="miter"/>
<path d="M990.22 1614.22L995.91 1624.72L984.54 1624.72Z" fill="#7f9fd6" stroke="none" stroke-width="0" stroke-linejoin="round"/>
<rect x="1010.34" y="1656.01" width="7.97" height="31.19" fill="#fff"/>
<path d="M1010.34 1687.2V1656.01H1018.31V1687.2" fill="none" stroke="#767676" stroke-width="1.9" stroke-linejoin="miter"/>
<rect x="1009.89" y="1652.06" width="8.87" height="6.8" fill="#505050" stroke="none" stroke-width="0"/>
<rect x="1024.99" y="1637.99" width="7.97" height="49.21" fill="#fdfeff"/>
<path d="M1024.99 1687.2V1637.99H1032.96V1687.2" fill="none" stroke="#8fa5d3" stroke-width="1.9" stroke-linejoin="miter"/>
<rect x="1024.54" y="1634.04" width="8.87" height="6.8" fill="#87a2d6" stroke="none" stroke-width="0"/>
<rect x="1040.39" y="1643.38" width="6.47" height="43.82" fill="#dadada"/>
<path d="M1040.39 1687.2V1643.38H1046.86V1687.2" fill="none" stroke="#454545" stroke-width="3.4" stroke-linejoin="miter"/>
<circle cx="1043.62" cy="1641.68" r="3.83" fill="#a0a0a0" stroke="#454545" stroke-width="2.2"/>
<rect x="1055.04" y="1621.92" width="6.47" height="65.28" fill="#c3dbf7"/>
<path d="M1055.04 1687.2V1621.92H1061.51V1687.2" fill="none" stroke="#8cb0e2" stroke-width="3.4" stroke-linejoin="miter"/>
<path d="M1058.27 1614.22L1063.96 1624.72L1052.59 1624.72Z" fill="#7f9fd6" stroke="none" stroke-width="0" stroke-linejoin="round"/>
<rect x="1078.39" y="1645.2" width="7.97" height="42" fill="#fff"/>
<path d="M1078.39 1687.2V1645.2H1086.36V1687.2" fill="none" stroke="#767676" stroke-width="1.9" stroke-linejoin="miter"/>
<rect x="1077.94" y="1641.25" width="8.87" height="6.8" fill="#505050" stroke="none" stroke-width="0"/>
<rect x="1093.04" y="1603.75" width="7.97" height="83.45" fill="#fdfeff"/>
<path d="M1093.04 1687.2V1603.75H1101.01V1687.2" fill="none" stroke="#8fa5d3" stroke-width="1.9" stroke-linejoin="miter"/>
<rect x="1092.59" y="1599.8" width="8.87" height="6.8" fill="#87a2d6" stroke="none" stroke-width="0"/>
<rect x="1108.44" y="1646.08" width="6.47" height="41.12" fill="#dadada"/>
<path d="M1108.44 1687.2V1646.08H1114.91V1687.2" fill="none" stroke="#454545" stroke-width="3.4" stroke-linejoin="miter"/>
<circle cx="1111.67" cy="1644.38" r="3.83" fill="#a0a0a0" stroke="#454545" stroke-width="2.2"/>
<rect x="1123.09" y="1622.82" width="6.47" height="64.38" fill="#c3dbf7"/>
<path d="M1123.09 1687.2V1622.82H1129.56V1687.2" fill="none" stroke="#8cb0e2" stroke-width="3.4" stroke-linejoin="miter"/>
<path d="M1126.32 1615.12L1132.01 1625.62L1120.64 1625.62Z" fill="#7f9fd6" stroke="none" stroke-width="0" stroke-linejoin="round"/>
<rect x="1146.44" y="1628.08" width="7.97" height="59.12" fill="#fff"/>
<path d="M1146.44 1687.2V1628.08H1154.41V1687.2" fill="none" stroke="#767676" stroke-width="1.9" stroke-linejoin="miter"/>
<rect x="1145.99" y="1624.13" width="8.87" height="6.8" fill="#505050" stroke="none" stroke-width="0"/>
<rect x="1161.09" y="1593.84" width="7.97" height="93.36" fill="#fdfeff"/>
<path d="M1161.09 1687.2V1593.84H1169.06V1687.2" fill="none" stroke="#8fa5d3" stroke-width="1.9" stroke-linejoin="miter"/>
<rect x="1160.64" y="1589.89" width="8.87" height="6.8" fill="#87a2d6" stroke="none" stroke-width="0"/>
<rect x="1176.49" y="1641.58" width="6.47" height="45.62" fill="#dadada"/>
<path d="M1176.49 1687.2V1641.58H1182.96V1687.2" fill="none" stroke="#454545" stroke-width="3.4" stroke-linejoin="miter"/>
<circle cx="1179.72" cy="1639.88" r="3.83" fill="#a0a0a0" stroke="#454545" stroke-width="2.2"/>
<rect x="1191.14" y="1624.62" width="6.47" height="62.58" fill="#c3dbf7"/>
<path d="M1191.14 1687.2V1624.62H1197.61V1687.2" fill="none" stroke="#8cb0e2" stroke-width="3.4" stroke-linejoin="miter"/>
<path d="M1194.37 1616.92L1200.06 1627.42L1188.69 1627.42Z" fill="#7f9fd6" stroke="none" stroke-width="0" stroke-linejoin="round"/>
<rect x="1214.49" y="1613.66" width="7.97" height="73.54" fill="#fff"/>
<path d="M1214.49 1687.2V1613.66H1222.46V1687.2" fill="none" stroke="#767676" stroke-width="1.9" stroke-linejoin="miter"/>
<rect x="1214.04" y="1609.71" width="8.87" height="6.8" fill="#505050" stroke="none" stroke-width="0"/>
<rect x="1229.14" y="1596.55" width="7.97" height="90.66" fill="#fdfeff"/>
<path d="M1229.14 1687.2V1596.55H1237.11V1687.2" fill="none" stroke="#8fa5d3" stroke-width="1.9" stroke-linejoin="miter"/>
<rect x="1228.69" y="1592.6" width="8.87" height="6.8" fill="#87a2d6" stroke="none" stroke-width="0"/>
<rect x="1244.54" y="1638.87" width="6.47" height="48.33" fill="#dadada"/>
<path d="M1244.54 1687.2V1638.87H1251.01V1687.2" fill="none" stroke="#454545" stroke-width="3.4" stroke-linejoin="miter"/>
<circle cx="1247.77" cy="1637.17" r="3.83" fill="#a0a0a0" stroke="#454545" stroke-width="2.2"/>
<rect x="1259.19" y="1617.41" width="6.47" height="69.79" fill="#c3dbf7"/>
<path d="M1259.19 1687.2V1617.41H1265.66V1687.2" fill="none" stroke="#8cb0e2" stroke-width="3.4" stroke-linejoin="miter"/>
<path d="M1262.42 1609.71L1268.11 1620.21L1256.74 1620.21Z" fill="#7f9fd6" stroke="none" stroke-width="0" stroke-linejoin="round"/>
<rect x="1282.54" y="1616.37" width="7.97" height="70.83" fill="#fff"/>
<path d="M1282.54 1687.2V1616.37H1290.51V1687.2" fill="none" stroke="#767676" stroke-width="1.9" stroke-linejoin="miter"/>
<rect x="1282.09" y="1612.42" width="8.87" height="6.8" fill="#505050" stroke="none" stroke-width="0"/>
<rect x="1297.19" y="1568.61" width="7.97" height="118.59" fill="#fdfeff"/>
<path d="M1297.19 1687.2V1568.61H1305.16V1687.2" fill="none" stroke="#8fa5d3" stroke-width="1.9" stroke-linejoin="miter"/>
<rect x="1296.74" y="1564.66" width="8.87" height="6.8" fill="#87a2d6" stroke="none" stroke-width="0"/>
<rect x="1312.59" y="1634.37" width="6.47" height="52.83" fill="#dadada"/>
<path d="M1312.59 1687.2V1634.37H1319.06V1687.2" fill="none" stroke="#454545" stroke-width="3.4" stroke-linejoin="miter"/>
<circle cx="1315.82" cy="1632.67" r="3.83" fill="#a0a0a0" stroke="#454545" stroke-width="2.2"/>
<rect x="1327.24" y="1618.32" width="6.47" height="68.89" fill="#c3dbf7"/>
<path d="M1327.24 1687.2V1618.32H1333.71V1687.2" fill="none" stroke="#8cb0e2" stroke-width="3.4" stroke-linejoin="miter"/>
<path d="M1330.47 1610.62L1336.16 1621.12L1324.79 1621.12Z" fill="#7f9fd6" stroke="none" stroke-width="0" stroke-linejoin="round"/>
<rect x="1350.59" y="1604.65" width="7.97" height="82.55" fill="#fff"/>
<path d="M1350.59 1687.2V1604.65H1358.56V1687.2" fill="none" stroke="#767676" stroke-width="1.9" stroke-linejoin="miter"/>
<rect x="1350.14" y="1600.7" width="8.87" height="6.8" fill="#505050" stroke="none" stroke-width="0"/>
<rect x="1365.24" y="1559.6" width="7.97" height="127.6" fill="#fdfeff"/>
<path d="M1365.24 1687.2V1559.6H1373.21V1687.2" fill="none" stroke="#8fa5d3" stroke-width="1.9" stroke-linejoin="miter"/>
<rect x="1364.79" y="1555.65" width="8.87" height="6.8" fill="#87a2d6" stroke="none" stroke-width="0"/>
<rect x="1380.64" y="1626.26" width="6.47" height="60.94" fill="#dadada"/>
<path d="M1380.64 1687.2V1626.26H1387.11V1687.2" fill="none" stroke="#454545" stroke-width="3.4" stroke-linejoin="miter"/>
<circle cx="1383.87" cy="1624.56" r="3.83" fill="#a0a0a0" stroke="#454545" stroke-width="2.2"/>
<rect x="1395.29" y="1613.81" width="6.47" height="73.39" fill="#c3dbf7"/>
<path d="M1395.29 1687.2V1613.81H1401.76V1687.2" fill="none" stroke="#8cb0e2" stroke-width="3.4" stroke-linejoin="miter"/>
<path d="M1398.52 1606.11L1404.21 1616.61L1392.84 1616.61Z" fill="#7f9fd6" stroke="none" stroke-width="0" stroke-linejoin="round"/>
<line x1="869.8" y1="1325.8" x2="869.8" y2="1688.7" stroke="#000" stroke-width="3"/>
<line x1="854.4" y1="1687.2" x2="1410.5" y2="1687.2" stroke="#000" stroke-width="3"/>
<line x1="854.4" y1="1687.2" x2="869.8" y2="1687.2" stroke="#000" stroke-width="3"/>
<line x1="854.4" y1="1597.1" x2="869.8" y2="1597.1" stroke="#000" stroke-width="3"/>
<line x1="854.4" y1="1507" x2="869.8" y2="1507" stroke="#000" stroke-width="3"/>
<line x1="854.4" y1="1416.9" x2="869.8" y2="1416.9" stroke="#000" stroke-width="3"/>
<line x1="854.4" y1="1326.8" x2="869.8" y2="1326.8" stroke="#000" stroke-width="3"/>
<line x1="900.2" y1="1687.2" x2="900.2" y2="1702.2" stroke="#000" stroke-width="3"/>
<line x1="968.25" y1="1687.2" x2="968.25" y2="1702.2" stroke="#000" stroke-width="3"/>
<line x1="1036.3" y1="1687.2" x2="1036.3" y2="1702.2" stroke="#000" stroke-width="3"/>
<line x1="1104.35" y1="1687.2" x2="1104.35" y2="1702.2" stroke="#000" stroke-width="3"/>
<line x1="1172.4" y1="1687.2" x2="1172.4" y2="1702.2" stroke="#000" stroke-width="3"/>
<line x1="1240.45" y1="1687.2" x2="1240.45" y2="1702.2" stroke="#000" stroke-width="3"/>
<line x1="1308.5" y1="1687.2" x2="1308.5" y2="1702.2" stroke="#000" stroke-width="3"/>
<line x1="1376.55" y1="1687.2" x2="1376.55" y2="1702.2" stroke="#000" stroke-width="3"/>
<text x="837.15" y="1696.5" font-size="21.5" textLength="12.79" lengthAdjust="spacingAndGlyphs" fill="#000">0</text>
<text x="836.85" y="1606.4" font-size="21.5" textLength="12.79" lengthAdjust="spacingAndGlyphs" fill="#000">1</text>
<text x="837.13" y="1516.3" font-size="21.5" textLength="12.79" lengthAdjust="spacingAndGlyphs" fill="#000">2</text>
<text x="837.04" y="1426.2" font-size="21.5" textLength="12.79" lengthAdjust="spacingAndGlyphs" fill="#000">3</text>
<text x="836.33" y="1336.1" font-size="21.5" textLength="12.79" lengthAdjust="spacingAndGlyphs" fill="#000">4</text>
<text x="873.89" y="1730" font-size="26" textLength="52.63" lengthAdjust="spacingAndGlyphs" fill="#000">0.42</text>
<text x="960.26" y="1730" font-size="26" textLength="15.04" lengthAdjust="spacingAndGlyphs" fill="#000">1</text>
<text x="1010.05" y="1730" font-size="26" textLength="52.63" lengthAdjust="spacingAndGlyphs" fill="#000">3.25</text>
<text x="1096.84" y="1730" font-size="26" textLength="15.04" lengthAdjust="spacingAndGlyphs" fill="#000">7</text>
<text x="1156.89" y="1730" font-size="26" textLength="30.08" lengthAdjust="spacingAndGlyphs" fill="#000">15</text>
<text x="1214.04" y="1730" font-size="26" textLength="52.63" lengthAdjust="spacingAndGlyphs" fill="#000">27.5</text>
<text x="1282.36" y="1730" font-size="26" textLength="52.63" lengthAdjust="spacingAndGlyphs" fill="#000">42.5</text>
<text x="1350.2" y="1730" font-size="26" textLength="52.63" lengthAdjust="spacingAndGlyphs" fill="#000">57.5</text>
<text x="1063.78" y="1779.1" font-size="28.34" textLength="145.66" lengthAdjust="spacingAndGlyphs" fill="#000">Time (min)</text>
<text transform="translate(801.6 1700.7) rotate(-90)" x="-1.82" y="0" font-size="30" textLength="398.16" lengthAdjust="spacingAndGlyphs" fill="#000">18F-FTHA in Muscle (%ID/cc)</text>
</svg></body></html>
